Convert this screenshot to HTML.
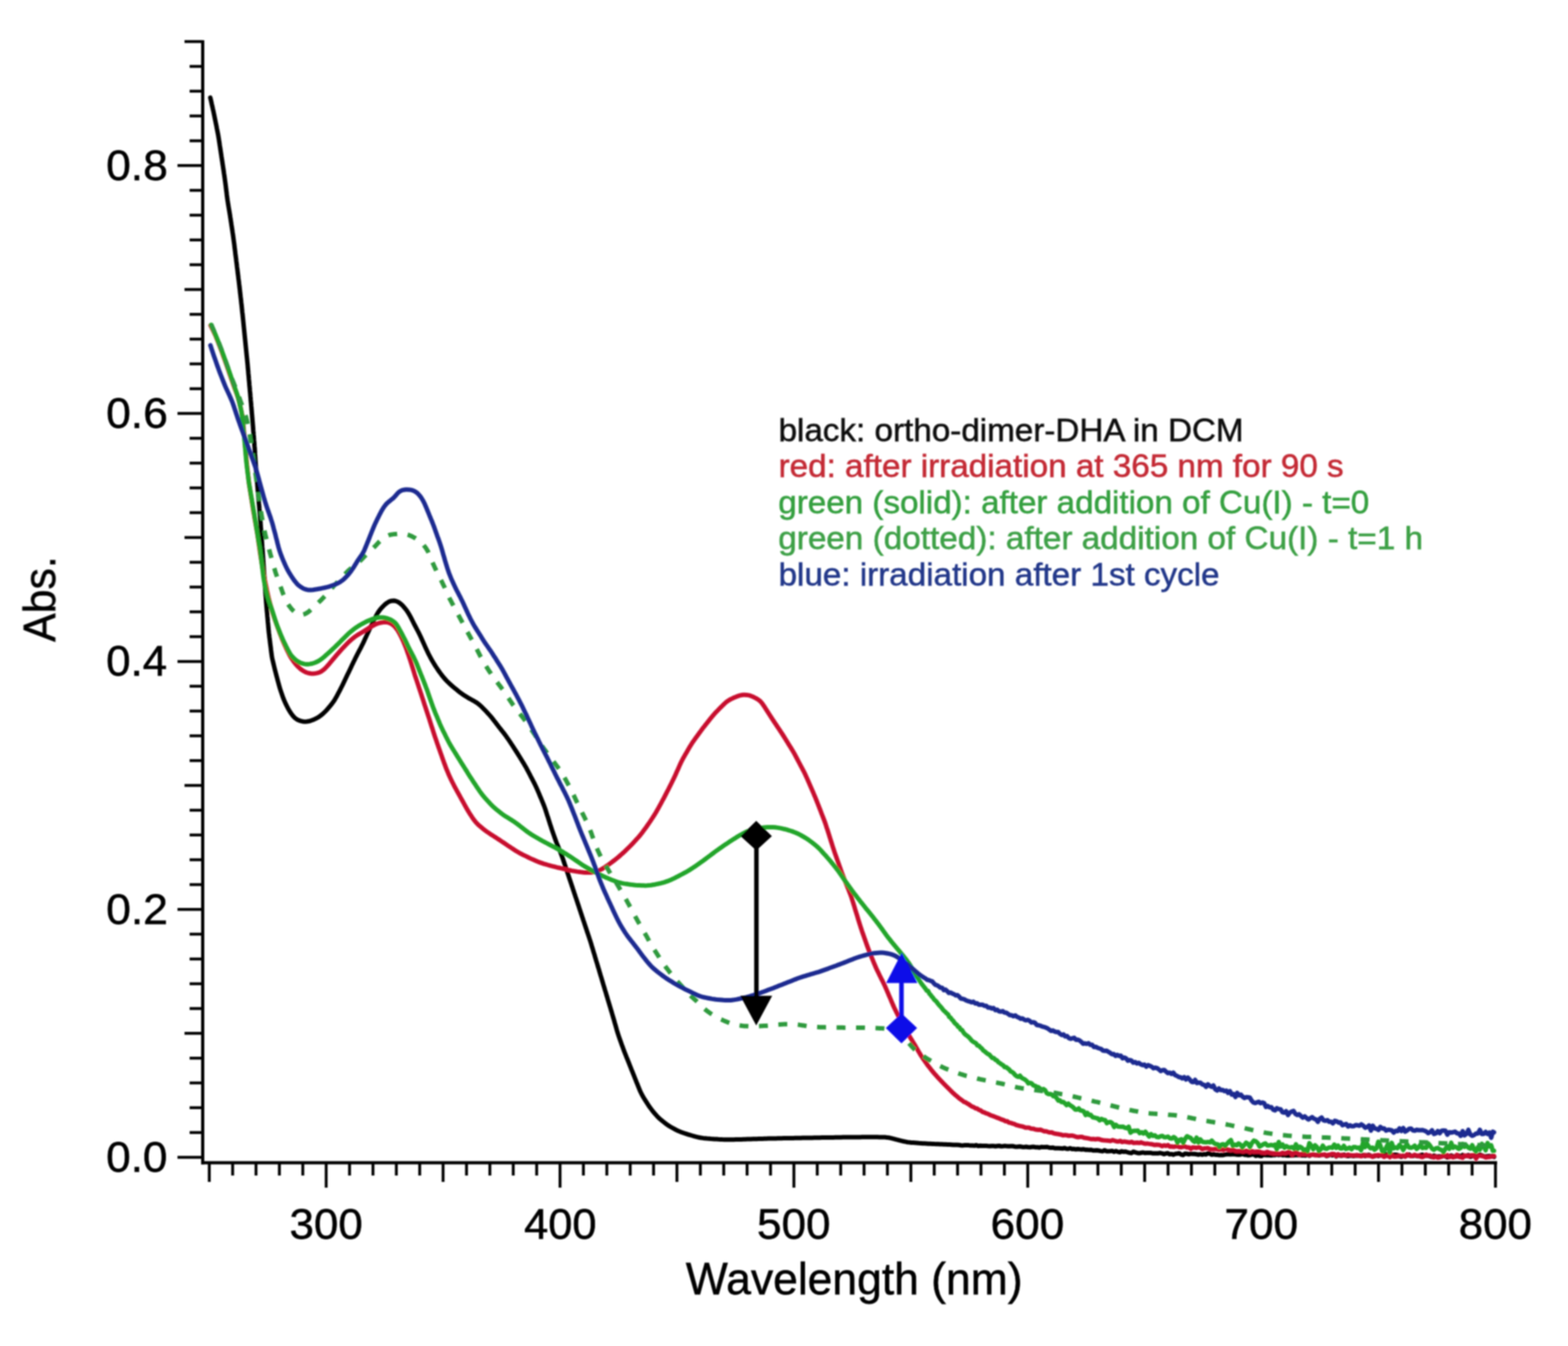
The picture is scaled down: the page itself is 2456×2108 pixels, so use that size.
<!DOCTYPE html><html><head><meta charset="utf-8"><title>UV-Vis spectra</title><style>html,body{margin:0;padding:0;background:#fff;}svg{display:block;}text{font-family:"Liberation Sans",Arial,sans-serif;}</style></head><body>
<svg width="2456" height="2108" viewBox="0 0 2456 2108">
<rect width="2456" height="2108" fill="#ffffff"/>
<defs><filter id="soft" x="0" y="0" width="100%" height="100%" filterUnits="userSpaceOnUse"><feGaussianBlur stdDeviation="1.0"/></filter></defs>
<g filter="url(#soft)">
<line x1="317.5" y1="63" x2="317.5" y2="1823.5" stroke="#000" stroke-width="5"/>
<line x1="315" y1="1821" x2="2345" y2="1821" stroke="#000" stroke-width="5"/>
<line x1="278" y1="1812.5" x2="317" y2="1812.5" stroke="#000" stroke-width="4.5"/>
<line x1="297" y1="1773.7" x2="317" y2="1773.7" stroke="#000" stroke-width="4.5"/>
<line x1="297" y1="1734.8" x2="317" y2="1734.8" stroke="#000" stroke-width="4.5"/>
<line x1="297" y1="1696.0" x2="317" y2="1696.0" stroke="#000" stroke-width="4.5"/>
<line x1="297" y1="1657.2" x2="317" y2="1657.2" stroke="#000" stroke-width="4.5"/>
<line x1="289" y1="1618.3" x2="317" y2="1618.3" stroke="#000" stroke-width="4.5"/>
<line x1="297" y1="1579.5" x2="317" y2="1579.5" stroke="#000" stroke-width="4.5"/>
<line x1="297" y1="1540.7" x2="317" y2="1540.7" stroke="#000" stroke-width="4.5"/>
<line x1="297" y1="1501.9" x2="317" y2="1501.9" stroke="#000" stroke-width="4.5"/>
<line x1="297" y1="1463.0" x2="317" y2="1463.0" stroke="#000" stroke-width="4.5"/>
<line x1="278" y1="1424.2" x2="317" y2="1424.2" stroke="#000" stroke-width="4.5"/>
<line x1="297" y1="1385.4" x2="317" y2="1385.4" stroke="#000" stroke-width="4.5"/>
<line x1="297" y1="1346.5" x2="317" y2="1346.5" stroke="#000" stroke-width="4.5"/>
<line x1="297" y1="1307.7" x2="317" y2="1307.7" stroke="#000" stroke-width="4.5"/>
<line x1="297" y1="1268.9" x2="317" y2="1268.9" stroke="#000" stroke-width="4.5"/>
<line x1="289" y1="1230.1" x2="317" y2="1230.1" stroke="#000" stroke-width="4.5"/>
<line x1="297" y1="1191.2" x2="317" y2="1191.2" stroke="#000" stroke-width="4.5"/>
<line x1="297" y1="1152.4" x2="317" y2="1152.4" stroke="#000" stroke-width="4.5"/>
<line x1="297" y1="1113.6" x2="317" y2="1113.6" stroke="#000" stroke-width="4.5"/>
<line x1="297" y1="1074.7" x2="317" y2="1074.7" stroke="#000" stroke-width="4.5"/>
<line x1="278" y1="1035.9" x2="317" y2="1035.9" stroke="#000" stroke-width="4.5"/>
<line x1="297" y1="997.1" x2="317" y2="997.1" stroke="#000" stroke-width="4.5"/>
<line x1="297" y1="958.2" x2="317" y2="958.2" stroke="#000" stroke-width="4.5"/>
<line x1="297" y1="919.4" x2="317" y2="919.4" stroke="#000" stroke-width="4.5"/>
<line x1="297" y1="880.6" x2="317" y2="880.6" stroke="#000" stroke-width="4.5"/>
<line x1="289" y1="841.8" x2="317" y2="841.8" stroke="#000" stroke-width="4.5"/>
<line x1="297" y1="802.9" x2="317" y2="802.9" stroke="#000" stroke-width="4.5"/>
<line x1="297" y1="764.1" x2="317" y2="764.1" stroke="#000" stroke-width="4.5"/>
<line x1="297" y1="725.3" x2="317" y2="725.3" stroke="#000" stroke-width="4.5"/>
<line x1="297" y1="686.4" x2="317" y2="686.4" stroke="#000" stroke-width="4.5"/>
<line x1="278" y1="647.6" x2="317" y2="647.6" stroke="#000" stroke-width="4.5"/>
<line x1="297" y1="608.8" x2="317" y2="608.8" stroke="#000" stroke-width="4.5"/>
<line x1="297" y1="569.9" x2="317" y2="569.9" stroke="#000" stroke-width="4.5"/>
<line x1="297" y1="531.1" x2="317" y2="531.1" stroke="#000" stroke-width="4.5"/>
<line x1="297" y1="492.3" x2="317" y2="492.3" stroke="#000" stroke-width="4.5"/>
<line x1="289" y1="453.4" x2="317" y2="453.4" stroke="#000" stroke-width="4.5"/>
<line x1="297" y1="414.6" x2="317" y2="414.6" stroke="#000" stroke-width="4.5"/>
<line x1="297" y1="375.8" x2="317" y2="375.8" stroke="#000" stroke-width="4.5"/>
<line x1="297" y1="337.0" x2="317" y2="337.0" stroke="#000" stroke-width="4.5"/>
<line x1="297" y1="298.1" x2="317" y2="298.1" stroke="#000" stroke-width="4.5"/>
<line x1="278" y1="259.3" x2="317" y2="259.3" stroke="#000" stroke-width="4.5"/>
<line x1="297" y1="220.5" x2="317" y2="220.5" stroke="#000" stroke-width="4.5"/>
<line x1="297" y1="181.6" x2="317" y2="181.6" stroke="#000" stroke-width="4.5"/>
<line x1="297" y1="142.8" x2="317" y2="142.8" stroke="#000" stroke-width="4.5"/>
<line x1="297" y1="104.0" x2="317" y2="104.0" stroke="#000" stroke-width="4.5"/>
<line x1="289" y1="65.1" x2="317" y2="65.1" stroke="#000" stroke-width="4.5"/>
<line x1="327.8" y1="1821" x2="327.8" y2="1851" stroke="#000" stroke-width="4.5"/>
<line x1="364.4" y1="1821" x2="364.4" y2="1841" stroke="#000" stroke-width="4.5"/>
<line x1="401.0" y1="1821" x2="401.0" y2="1841" stroke="#000" stroke-width="4.5"/>
<line x1="437.6" y1="1821" x2="437.6" y2="1841" stroke="#000" stroke-width="4.5"/>
<line x1="474.3" y1="1821" x2="474.3" y2="1841" stroke="#000" stroke-width="4.5"/>
<line x1="510.9" y1="1821" x2="510.9" y2="1860" stroke="#000" stroke-width="4.5"/>
<line x1="547.5" y1="1821" x2="547.5" y2="1841" stroke="#000" stroke-width="4.5"/>
<line x1="584.2" y1="1821" x2="584.2" y2="1841" stroke="#000" stroke-width="4.5"/>
<line x1="620.8" y1="1821" x2="620.8" y2="1841" stroke="#000" stroke-width="4.5"/>
<line x1="657.4" y1="1821" x2="657.4" y2="1841" stroke="#000" stroke-width="4.5"/>
<line x1="694.0" y1="1821" x2="694.0" y2="1851" stroke="#000" stroke-width="4.5"/>
<line x1="730.7" y1="1821" x2="730.7" y2="1841" stroke="#000" stroke-width="4.5"/>
<line x1="767.3" y1="1821" x2="767.3" y2="1841" stroke="#000" stroke-width="4.5"/>
<line x1="803.9" y1="1821" x2="803.9" y2="1841" stroke="#000" stroke-width="4.5"/>
<line x1="840.6" y1="1821" x2="840.6" y2="1841" stroke="#000" stroke-width="4.5"/>
<line x1="877.2" y1="1821" x2="877.2" y2="1860" stroke="#000" stroke-width="4.5"/>
<line x1="913.8" y1="1821" x2="913.8" y2="1841" stroke="#000" stroke-width="4.5"/>
<line x1="950.5" y1="1821" x2="950.5" y2="1841" stroke="#000" stroke-width="4.5"/>
<line x1="987.1" y1="1821" x2="987.1" y2="1841" stroke="#000" stroke-width="4.5"/>
<line x1="1023.7" y1="1821" x2="1023.7" y2="1841" stroke="#000" stroke-width="4.5"/>
<line x1="1060.3" y1="1821" x2="1060.3" y2="1851" stroke="#000" stroke-width="4.5"/>
<line x1="1097.0" y1="1821" x2="1097.0" y2="1841" stroke="#000" stroke-width="4.5"/>
<line x1="1133.6" y1="1821" x2="1133.6" y2="1841" stroke="#000" stroke-width="4.5"/>
<line x1="1170.2" y1="1821" x2="1170.2" y2="1841" stroke="#000" stroke-width="4.5"/>
<line x1="1206.9" y1="1821" x2="1206.9" y2="1841" stroke="#000" stroke-width="4.5"/>
<line x1="1243.5" y1="1821" x2="1243.5" y2="1860" stroke="#000" stroke-width="4.5"/>
<line x1="1280.1" y1="1821" x2="1280.1" y2="1841" stroke="#000" stroke-width="4.5"/>
<line x1="1316.8" y1="1821" x2="1316.8" y2="1841" stroke="#000" stroke-width="4.5"/>
<line x1="1353.4" y1="1821" x2="1353.4" y2="1841" stroke="#000" stroke-width="4.5"/>
<line x1="1390.0" y1="1821" x2="1390.0" y2="1841" stroke="#000" stroke-width="4.5"/>
<line x1="1426.7" y1="1821" x2="1426.7" y2="1851" stroke="#000" stroke-width="4.5"/>
<line x1="1463.3" y1="1821" x2="1463.3" y2="1841" stroke="#000" stroke-width="4.5"/>
<line x1="1499.9" y1="1821" x2="1499.9" y2="1841" stroke="#000" stroke-width="4.5"/>
<line x1="1536.5" y1="1821" x2="1536.5" y2="1841" stroke="#000" stroke-width="4.5"/>
<line x1="1573.2" y1="1821" x2="1573.2" y2="1841" stroke="#000" stroke-width="4.5"/>
<line x1="1609.8" y1="1821" x2="1609.8" y2="1860" stroke="#000" stroke-width="4.5"/>
<line x1="1646.4" y1="1821" x2="1646.4" y2="1841" stroke="#000" stroke-width="4.5"/>
<line x1="1683.1" y1="1821" x2="1683.1" y2="1841" stroke="#000" stroke-width="4.5"/>
<line x1="1719.7" y1="1821" x2="1719.7" y2="1841" stroke="#000" stroke-width="4.5"/>
<line x1="1756.3" y1="1821" x2="1756.3" y2="1841" stroke="#000" stroke-width="4.5"/>
<line x1="1792.9" y1="1821" x2="1792.9" y2="1851" stroke="#000" stroke-width="4.5"/>
<line x1="1829.6" y1="1821" x2="1829.6" y2="1841" stroke="#000" stroke-width="4.5"/>
<line x1="1866.2" y1="1821" x2="1866.2" y2="1841" stroke="#000" stroke-width="4.5"/>
<line x1="1902.8" y1="1821" x2="1902.8" y2="1841" stroke="#000" stroke-width="4.5"/>
<line x1="1939.5" y1="1821" x2="1939.5" y2="1841" stroke="#000" stroke-width="4.5"/>
<line x1="1976.1" y1="1821" x2="1976.1" y2="1860" stroke="#000" stroke-width="4.5"/>
<line x1="2012.7" y1="1821" x2="2012.7" y2="1841" stroke="#000" stroke-width="4.5"/>
<line x1="2049.4" y1="1821" x2="2049.4" y2="1841" stroke="#000" stroke-width="4.5"/>
<line x1="2086.0" y1="1821" x2="2086.0" y2="1841" stroke="#000" stroke-width="4.5"/>
<line x1="2122.6" y1="1821" x2="2122.6" y2="1841" stroke="#000" stroke-width="4.5"/>
<line x1="2159.2" y1="1821" x2="2159.2" y2="1851" stroke="#000" stroke-width="4.5"/>
<line x1="2195.9" y1="1821" x2="2195.9" y2="1841" stroke="#000" stroke-width="4.5"/>
<line x1="2232.5" y1="1821" x2="2232.5" y2="1841" stroke="#000" stroke-width="4.5"/>
<line x1="2269.1" y1="1821" x2="2269.1" y2="1841" stroke="#000" stroke-width="4.5"/>
<line x1="2305.8" y1="1821" x2="2305.8" y2="1841" stroke="#000" stroke-width="4.5"/>
<line x1="2342.4" y1="1821" x2="2342.4" y2="1860" stroke="#000" stroke-width="4.5"/>
<text x="166.18" y="1835.00" font-size="66" textLength="96.14" lengthAdjust="spacingAndGlyphs" fill="#000" stroke="#000" stroke-width="0.8">0.0</text>
<text x="166.16" y="1446.70" font-size="66" textLength="96.98" lengthAdjust="spacingAndGlyphs" fill="#000" stroke="#000" stroke-width="0.8">0.2</text>
<text x="166.20" y="1058.40" font-size="66" textLength="95.59" lengthAdjust="spacingAndGlyphs" fill="#000" stroke="#000" stroke-width="0.8">0.4</text>
<text x="166.17" y="670.10" font-size="66" textLength="96.70" lengthAdjust="spacingAndGlyphs" fill="#000" stroke="#000" stroke-width="0.8">0.6</text>
<text x="166.17" y="281.80" font-size="66" textLength="96.70" lengthAdjust="spacingAndGlyphs" fill="#000" stroke="#000" stroke-width="0.8">0.8</text>
<text x="453.55" y="1940.00" font-size="66" textLength="114.57" lengthAdjust="spacingAndGlyphs" fill="#000" stroke="#000" stroke-width="0.8">300</text>
<text x="820.90" y="1940.00" font-size="66" textLength="113.49" lengthAdjust="spacingAndGlyphs" fill="#000" stroke="#000" stroke-width="0.8">400</text>
<text x="1185.88" y="1940.00" font-size="66" textLength="114.84" lengthAdjust="spacingAndGlyphs" fill="#000" stroke="#000" stroke-width="0.8">500</text>
<text x="1551.64" y="1940.00" font-size="66" textLength="115.39" lengthAdjust="spacingAndGlyphs" fill="#000" stroke="#000" stroke-width="0.8">600</text>
<text x="1917.67" y="1940.00" font-size="66" textLength="115.67" lengthAdjust="spacingAndGlyphs" fill="#000" stroke="#000" stroke-width="0.8">700</text>
<text x="2284.78" y="1940.00" font-size="66" textLength="114.84" lengthAdjust="spacingAndGlyphs" fill="#000" stroke="#000" stroke-width="0.8">800</text>
<text x="1074.35" y="2027.00" font-size="69.5" textLength="527.28" lengthAdjust="spacingAndGlyphs" fill="#000" stroke="#000" stroke-width="0.8">Wavelength (nm)</text>
<g transform="translate(86.3,1005) rotate(-90)"><text x="-0.24" y="0.00" font-size="71" textLength="134.03" lengthAdjust="spacingAndGlyphs" fill="#000" stroke="#000" stroke-width="0.8">Abs.</text></g>
<path d="M329.4,152.9 L329.8,154.7 L330.4,157.1 L331.0,159.8 L331.6,162.7 L332.3,165.6 L333.0,168.6 L333.6,171.5 L334.3,174.4 L334.9,177.4 L335.5,180.3 L336.1,183.2 L336.7,186.2 L337.3,189.1 L337.9,192.1 L338.5,195.0 L339.1,197.9 L339.6,200.9 L340.2,203.8 L340.8,206.8 L341.4,209.7 L341.9,212.7 L342.4,215.6 L342.9,218.6 L343.3,221.6 L343.8,224.5 L344.2,227.5 L344.7,230.5 L345.1,233.4 L345.6,236.4 L346.0,239.4 L346.5,242.3 L346.9,245.3 L347.4,248.3 L347.8,251.2 L348.3,254.2 L348.7,257.2 L349.2,260.1 L349.6,263.1 L350.1,266.1 L350.5,269.0 L350.9,272.0 L351.4,275.0 L351.8,277.9 L352.2,280.9 L352.6,283.9 L353.0,286.8 L353.4,289.8 L353.8,292.8 L354.1,295.8 L354.5,298.8 L354.9,301.7 L355.2,304.7 L355.6,307.7 L356.0,310.7 L356.4,313.6 L356.9,316.6 L357.3,319.6 L357.8,322.5 L358.3,325.5 L358.8,328.4 L359.3,331.4 L359.8,334.4 L360.3,337.3 L360.7,340.3 L361.2,343.2 L361.6,346.2 L362.1,349.2 L362.5,352.1 L363.0,355.1 L363.4,358.1 L363.9,361.0 L364.3,364.0 L364.8,367.0 L365.2,370.0 L365.6,372.9 L366.0,375.9 L366.4,378.9 L366.8,381.8 L367.2,384.8 L367.5,387.8 L367.9,390.8 L368.3,393.8 L368.6,396.7 L369.0,399.7 L369.4,402.7 L369.8,405.7 L370.1,408.6 L370.5,411.6 L370.9,414.6 L371.2,417.6 L371.6,420.6 L372.0,423.5 L372.3,426.5 L372.7,429.5 L373.1,432.5 L373.4,435.4 L373.8,438.4 L374.2,441.4 L374.5,444.4 L374.9,447.4 L375.2,450.3 L375.6,453.3 L375.9,456.3 L376.2,459.3 L376.6,462.3 L376.9,465.2 L377.3,468.2 L377.6,471.2 L377.9,474.2 L378.3,477.2 L378.6,480.2 L378.9,483.1 L379.2,486.1 L379.5,489.1 L379.9,492.1 L380.2,495.1 L380.5,498.1 L380.8,501.0 L381.1,504.0 L381.4,507.0 L381.7,510.0 L382.0,513.0 L382.3,516.0 L382.6,518.9 L382.9,521.9 L383.2,524.9 L383.5,527.9 L383.8,530.9 L384.1,533.9 L384.4,536.9 L384.7,539.8 L385.0,542.8 L385.3,545.8 L385.6,548.8 L385.9,551.8 L386.2,554.8 L386.5,557.8 L386.8,560.7 L387.1,563.7 L387.4,566.7 L387.7,569.7 L388.0,572.7 L388.2,575.7 L388.5,578.7 L388.8,581.7 L389.0,584.6 L389.3,587.6 L389.6,590.6 L389.8,593.6 L390.1,596.6 L390.4,599.6 L390.6,602.6 L390.9,605.6 L391.2,608.6 L391.4,611.5 L391.7,614.5 L392.0,617.5 L392.2,620.5 L392.5,623.5 L392.7,626.5 L393.0,629.5 L393.3,632.5 L393.5,635.5 L393.8,638.4 L394.0,641.4 L394.3,644.4 L394.5,647.4 L394.8,650.4 L395.0,653.4 L395.3,656.4 L395.5,659.4 L395.8,662.4 L396.0,665.4 L396.3,668.3 L396.5,671.3 L396.7,674.3 L397.0,677.3 L397.2,680.3 L397.5,683.3 L397.7,686.3 L397.9,689.3 L398.2,692.3 L398.4,695.3 L398.6,698.3 L398.9,701.2 L399.1,704.2 L399.3,707.2 L399.4,710.2 L399.6,713.2 L399.8,716.2 L400.0,719.2 L400.2,722.2 L400.4,725.2 L400.6,728.2 L400.8,731.2 L401.0,734.2 L401.2,737.2 L401.5,740.2 L401.7,743.2 L402.0,746.1 L402.2,749.1 L402.5,752.1 L402.7,755.1 L403.0,758.1 L403.2,761.1 L403.5,764.1 L403.7,767.1 L404.0,770.1 L404.3,773.0 L404.5,776.0 L404.8,779.0 L405.0,782.0 L405.3,785.0 L405.5,788.0 L405.8,791.0 L406.1,794.0 L406.3,797.0 L406.6,800.0 L406.8,802.9 L407.1,805.9 L407.3,808.9 L407.5,811.9 L407.7,814.9 L408.0,817.9 L408.2,820.9 L408.4,823.9 L408.6,826.9 L408.9,829.9 L409.1,832.9 L409.3,835.9 L409.5,838.8 L409.8,841.8 L410.0,844.8 L410.2,847.8 L410.4,850.8 L410.6,853.8 L410.8,856.8 L411.1,859.8 L411.3,862.8 L411.5,865.8 L411.7,868.8 L411.9,871.8 L412.1,874.8 L412.3,877.7 L412.5,880.7 L412.7,883.7 L412.9,886.7 L413.1,889.7 L413.3,892.7 L413.5,895.7 L413.7,898.7 L413.9,901.7 L414.1,904.7 L414.4,907.7 L414.6,910.7 L414.8,913.7 L415.0,916.7 L415.2,919.7 L415.4,922.6 L415.6,925.6 L415.8,928.6 L416.0,931.6 L416.3,934.6 L416.5,937.6 L416.7,940.6 L416.9,943.6 L417.2,946.6 L417.4,949.6 L417.7,952.6 L417.9,955.6 L418.2,958.5 L418.5,961.5 L418.7,964.5 L419.0,967.5 L419.3,970.5 L419.5,973.5 L419.8,976.5 L420.1,979.5 L420.3,982.4 L420.6,985.4 L420.9,988.4 L421.2,991.4 L421.6,994.4 L421.9,997.4 L422.3,1000.3 L422.7,1003.3 L423.0,1006.3 L423.4,1009.3 L423.8,1012.3 L424.2,1015.2 L424.5,1018.2 L424.9,1021.2 L425.3,1024.2 L425.7,1027.1 L426.2,1030.1 L426.8,1033.0 L427.5,1035.9 L428.2,1038.9 L428.9,1041.8 L429.6,1044.7 L430.3,1047.6 L431.0,1050.5 L431.8,1053.4 L432.5,1056.3 L433.3,1059.2 L434.1,1062.1 L434.8,1065.0 L435.6,1067.9 L436.4,1070.8 L437.2,1073.7 L438.0,1076.6 L438.9,1079.5 L439.8,1082.3 L440.8,1085.1 L441.8,1088.0 L442.7,1090.8 L443.8,1093.6 L444.9,1096.4 L446.1,1099.2 L447.3,1101.9 L448.7,1104.6 L450.0,1107.2 L451.4,1109.9 L452.9,1112.5 L454.4,1115.0 L456.1,1117.5 L457.9,1119.9 L459.8,1122.2 L461.8,1124.3 L464.1,1126.0 L466.6,1127.5 L469.3,1128.6 L472.1,1129.4 L474.9,1130.0 L477.8,1130.2 L480.7,1130.0 L483.6,1129.5 L486.5,1128.8 L489.3,1127.8 L492.0,1126.7 L494.7,1125.4 L497.3,1124.0 L499.9,1122.4 L502.3,1120.7 L504.6,1118.8 L506.8,1116.8 L509.0,1114.7 L511.1,1112.6 L513.1,1110.4 L515.0,1108.1 L517.0,1105.8 L518.8,1103.5 L520.7,1101.1 L522.4,1098.7 L524.1,1096.2 L525.6,1093.6 L527.1,1091.0 L528.5,1088.4 L529.9,1085.7 L531.3,1083.1 L532.7,1080.4 L534.0,1077.7 L535.4,1075.1 L536.7,1072.4 L538.0,1069.7 L539.3,1067.0 L540.6,1064.3 L541.9,1061.6 L543.2,1058.8 L544.5,1056.1 L545.8,1053.4 L547.1,1050.7 L548.4,1048.0 L549.7,1045.3 L550.9,1042.6 L552.2,1039.9 L553.5,1037.2 L554.9,1034.5 L556.2,1031.8 L557.5,1029.1 L558.9,1026.4 L560.2,1023.8 L561.6,1021.1 L563.0,1018.4 L564.4,1015.8 L565.8,1013.1 L567.1,1010.4 L568.5,1007.8 L569.8,1005.1 L571.0,1002.3 L572.3,999.6 L573.5,996.9 L574.8,994.1 L576.0,991.4 L577.3,988.7 L578.5,986.0 L579.8,983.3 L581.1,980.6 L582.5,977.9 L583.8,975.2 L585.1,972.5 L586.4,969.8 L587.8,967.1 L589.2,964.5 L590.6,961.8 L592.1,959.3 L593.8,956.8 L595.6,954.4 L597.5,952.2 L599.6,950.0 L601.7,947.9 L603.9,945.9 L606.3,944.1 L608.7,942.6 L611.4,941.5 L614.1,940.9 L616.9,940.8 L619.7,941.3 L622.4,942.2 L624.9,943.6 L627.3,945.3 L629.5,947.3 L631.6,949.4 L633.5,951.7 L635.4,954.0 L637.2,956.4 L638.8,958.9 L640.4,961.4 L641.9,964.0 L643.3,966.7 L644.7,969.3 L646.0,972.0 L647.4,974.7 L648.7,977.4 L650.1,980.0 L651.5,982.7 L652.9,985.3 L654.3,988.0 L655.7,990.7 L657.0,993.3 L658.3,996.0 L659.6,998.8 L660.8,1001.5 L662.0,1004.2 L663.3,1007.0 L664.5,1009.7 L665.7,1012.4 L667.0,1015.2 L668.3,1017.9 L669.5,1020.6 L670.8,1023.3 L672.2,1026.0 L673.6,1028.6 L675.0,1031.3 L676.5,1033.9 L678.0,1036.5 L679.5,1039.0 L681.1,1041.6 L682.7,1044.1 L684.4,1046.6 L686.0,1049.1 L687.8,1051.6 L689.5,1054.0 L691.3,1056.4 L693.1,1058.8 L695.0,1061.1 L697.0,1063.4 L699.0,1065.6 L701.1,1067.7 L703.3,1069.8 L705.5,1071.8 L707.7,1073.8 L710.0,1075.8 L712.2,1077.7 L714.6,1079.6 L716.9,1081.5 L719.3,1083.4 L721.6,1085.2 L724.1,1087.0 L726.5,1088.6 L729.1,1090.3 L731.6,1091.8 L734.2,1093.4 L736.8,1094.8 L739.4,1096.3 L742.1,1097.7 L744.6,1099.2 L747.1,1100.8 L749.5,1102.6 L751.8,1104.5 L754.0,1106.5 L756.1,1108.6 L758.2,1110.8 L760.3,1112.9 L762.4,1115.1 L764.4,1117.3 L766.4,1119.5 L768.4,1121.8 L770.3,1124.1 L772.2,1126.4 L774.0,1128.8 L775.9,1131.2 L777.7,1133.6 L779.5,1135.9 L781.3,1138.3 L783.2,1140.7 L785.0,1143.0 L786.9,1145.4 L788.8,1147.7 L790.6,1150.1 L792.4,1152.5 L794.1,1154.9 L795.8,1157.4 L797.5,1159.9 L799.2,1162.4 L800.8,1164.9 L802.5,1167.4 L804.1,1169.9 L805.7,1172.4 L807.4,1175.0 L809.0,1177.5 L810.6,1180.0 L812.2,1182.6 L813.8,1185.1 L815.3,1187.7 L816.9,1190.2 L818.5,1192.8 L820.1,1195.3 L821.6,1197.9 L823.1,1200.5 L824.6,1203.1 L826.0,1205.8 L827.4,1208.4 L828.8,1211.1 L830.2,1213.7 L831.5,1216.4 L832.9,1219.0 L834.3,1221.7 L835.7,1224.4 L837.1,1227.0 L838.4,1229.7 L839.7,1232.4 L840.9,1235.2 L842.1,1237.9 L843.3,1240.7 L844.5,1243.4 L845.6,1246.2 L846.8,1249.0 L848.0,1251.7 L849.1,1254.5 L850.3,1257.3 L851.4,1260.1 L852.5,1262.8 L853.5,1265.7 L854.5,1268.5 L855.4,1271.4 L856.3,1274.2 L857.2,1277.1 L858.2,1279.9 L859.1,1282.8 L860.0,1285.6 L860.9,1288.5 L861.8,1291.4 L862.8,1294.2 L863.7,1297.1 L864.6,1299.9 L865.6,1302.7 L866.6,1305.6 L867.6,1308.4 L868.6,1311.2 L869.6,1314.0 L870.7,1316.9 L871.7,1319.7 L872.8,1322.5 L874.0,1325.2 L875.1,1328.0 L876.2,1330.8 L877.4,1333.6 L878.5,1336.4 L879.5,1339.2 L880.6,1342.0 L881.6,1344.8 L882.5,1347.6 L883.5,1350.5 L884.4,1353.3 L885.4,1356.2 L886.3,1359.0 L887.3,1361.9 L888.2,1364.7 L889.2,1367.6 L890.1,1370.4 L891.1,1373.3 L892.0,1376.1 L893.0,1379.0 L893.9,1381.8 L894.9,1384.6 L895.8,1387.5 L896.8,1390.3 L897.7,1393.2 L898.7,1396.0 L899.6,1398.9 L900.6,1401.7 L901.5,1404.6 L902.5,1407.4 L903.4,1410.3 L904.4,1413.1 L905.3,1416.0 L906.3,1418.8 L907.2,1421.6 L908.1,1424.5 L909.1,1427.3 L910.0,1430.2 L911.0,1433.0 L911.9,1435.9 L912.9,1438.7 L913.8,1441.6 L914.8,1444.4 L915.7,1447.3 L916.7,1450.1 L917.6,1453.0 L918.6,1455.8 L919.5,1458.7 L920.5,1461.5 L921.4,1464.3 L922.4,1467.2 L923.3,1470.0 L924.3,1472.9 L925.2,1475.7 L926.1,1478.6 L926.9,1481.5 L927.8,1484.4 L928.7,1487.2 L929.5,1490.1 L930.4,1493.0 L931.3,1495.8 L932.1,1498.7 L933.0,1501.6 L933.8,1504.5 L934.7,1507.3 L935.6,1510.2 L936.4,1513.1 L937.3,1516.0 L938.2,1518.8 L939.0,1521.7 L939.9,1524.6 L940.7,1527.5 L941.6,1530.3 L942.5,1533.2 L943.3,1536.1 L944.2,1539.0 L945.0,1541.8 L945.9,1544.7 L946.8,1547.6 L947.6,1550.5 L948.5,1553.3 L949.4,1556.2 L950.2,1559.1 L951.1,1561.9 L951.9,1564.8 L952.8,1567.7 L953.7,1570.6 L954.5,1573.4 L955.4,1576.3 L956.3,1579.2 L957.1,1582.1 L958.0,1584.9 L958.8,1587.8 L959.7,1590.7 L960.5,1593.6 L961.4,1596.4 L962.2,1599.3 L963.0,1602.2 L963.9,1605.1 L964.7,1608.0 L965.5,1610.9 L966.3,1613.8 L967.2,1616.6 L968.1,1619.5 L969.0,1622.3 L970.0,1625.2 L971.0,1628.0 L972.0,1630.8 L973.0,1633.7 L974.0,1636.5 L975.1,1639.3 L976.1,1642.1 L977.1,1644.9 L978.2,1647.7 L979.3,1650.5 L980.4,1653.3 L981.5,1656.1 L982.7,1658.9 L983.8,1661.7 L984.9,1664.4 L986.0,1667.2 L987.1,1670.0 L988.2,1672.8 L989.3,1675.6 L990.5,1678.4 L991.6,1681.2 L992.7,1683.9 L993.8,1686.7 L994.9,1689.5 L996.0,1692.3 L997.1,1695.1 L998.3,1697.9 L999.4,1700.7 L1000.5,1703.4 L1001.6,1706.2 L1002.8,1709.0 L1004.1,1711.7 L1005.4,1714.3 L1006.9,1716.9 L1008.4,1719.5 L1010.0,1722.1 L1011.6,1724.6 L1013.2,1727.2 L1014.8,1729.7 L1016.4,1732.2 L1018.2,1734.6 L1020.0,1737.0 L1021.8,1739.4 L1023.7,1741.7 L1025.6,1744.0 L1027.6,1746.3 L1029.6,1748.5 L1031.7,1750.6 L1033.9,1752.6 L1036.2,1754.5 L1038.5,1756.4 L1040.9,1758.3 L1043.3,1760.1 L1045.7,1761.8 L1048.2,1763.5 L1050.7,1765.0 L1053.4,1766.5 L1056.0,1767.9 L1058.6,1769.3 L1061.3,1770.7 L1064.1,1771.9 L1066.8,1773.0 L1069.6,1774.0 L1072.5,1775.0 L1075.3,1775.9 L1078.2,1776.8 L1081.1,1777.7 L1083.9,1778.5 L1086.8,1779.3 L1089.7,1780.1 L1092.6,1780.8 L1095.6,1781.5 L1098.5,1782.0 L1101.5,1782.4 L1104.4,1782.7 L1107.4,1783.0 L1110.4,1783.2 L1113.4,1783.5 L1116.4,1783.7 L1119.4,1783.9 L1122.4,1784.1 L1125.4,1784.3 L1128.4,1784.4 L1131.4,1784.6 L1134.4,1784.7 L1137.4,1784.8 L1140.4,1784.8 L1143.4,1784.8 L1146.4,1784.8 L1149.4,1784.7 L1152.4,1784.6 L1155.4,1784.5 L1158.4,1784.5 L1161.4,1784.4 L1164.4,1784.3 L1167.4,1784.2 L1170.4,1784.1 L1173.4,1784.0 L1176.4,1783.9 L1179.4,1783.8 L1182.4,1783.7 L1185.3,1783.7 L1188.3,1783.6 L1191.3,1783.5 L1194.3,1783.4 L1197.3,1783.3 L1200.3,1783.2 L1203.3,1783.1 L1206.3,1783.1 L1209.3,1783.0 L1212.3,1782.9 L1215.3,1782.9 L1218.3,1782.8 L1221.3,1782.8 L1224.3,1782.7 L1227.3,1782.6 L1230.3,1782.6 L1233.3,1782.5 L1236.3,1782.5 L1239.3,1782.4 L1242.3,1782.4 L1245.3,1782.3 L1248.3,1782.3 L1251.3,1782.2 L1254.3,1782.2 L1257.3,1782.1 L1260.3,1782.1 L1263.3,1782.0 L1266.3,1782.0 L1269.3,1781.9 L1272.3,1781.9 L1275.3,1781.8 L1278.3,1781.8 L1281.3,1781.7 L1284.3,1781.7 L1287.3,1781.6 L1290.3,1781.6 L1293.3,1781.5 L1296.3,1781.5 L1299.3,1781.4 L1302.3,1781.4 L1305.3,1781.4 L1308.3,1781.3 L1311.3,1781.3 L1314.3,1781.2 L1317.3,1781.2 L1320.3,1781.1 L1323.3,1781.1 L1326.3,1781.1 L1329.3,1781.0 L1332.3,1781.0 L1335.3,1781.0 L1338.3,1780.9 L1341.3,1780.9 L1344.3,1780.9 L1347.3,1780.9 L1350.3,1780.8 L1353.3,1780.8 L1356.3,1780.8 L1359.3,1780.8 L1362.3,1780.7 L1365.3,1780.7 L1368.3,1780.8 L1371.3,1780.8 L1374.3,1780.8 L1377.3,1780.9 L1380.3,1780.9 L1383.3,1781.0 L1386.3,1781.1 L1389.3,1781.4 L1392.2,1781.8 L1395.2,1782.4 L1398.1,1783.1 L1401.0,1783.8 L1403.9,1784.6 L1406.8,1785.3 L1409.7,1786.1 L1412.6,1786.8 L1415.5,1787.5 L1418.5,1788.1 L1421.4,1788.7 L1424.4,1789.1 L1427.3,1789.4 L1430.3,1789.6 L1433.3,1789.8 L1436.3,1790.0 L1439.3,1790.3 L1442.3,1790.5 L1445.3,1790.7 L1448.3,1790.8 L1451.3,1791.0 L1454.3,1791.2 L1457.3,1791.3 L1460.3,1791.4 L1463.3,1791.6 L1466.3,1791.7 L1469.3,1791.8 L1472.3,1792.0 L1475.3,1792.1 L1478.3,1792.2 L1481.2,1792.3 L1484.2,1792.5 L1487.2,1792.6 L1490.2,1792.7 L1493.2,1792.9 L1496.2,1793.0 L1499.2,1793.1 L1502.2,1793.3 L1505.2,1793.8 L1508.2,1793.9 L1511.2,1793.5 L1514.2,1793.6 L1517.2,1793.6 L1520.2,1794.1 L1523.2,1794.0 L1526.2,1794.3 L1529.2,1793.5 L1532.2,1794.7 L1535.2,1794.3 L1538.2,1794.6 L1541.2,1794.4 L1544.2,1794.4 L1547.2,1794.8 L1550.2,1795.0 L1553.2,1794.7 L1556.2,1794.8 L1559.2,1795.2 L1562.2,1794.7 L1565.2,1794.5 L1568.2,1795.3 L1571.2,1795.0 L1574.2,1794.6 L1577.2,1795.1 L1580.2,1795.3 L1583.2,1795.1 L1586.2,1795.0 L1589.2,1795.7 L1592.2,1796.1 L1595.2,1795.7 L1598.2,1795.6 L1601.2,1796.2 L1604.2,1796.4 L1607.2,1796.0 L1610.2,1796.5 L1613.2,1796.7 L1616.2,1796.3 L1619.2,1796.1 L1622.2,1796.7 L1625.2,1796.7 L1628.2,1797.2 L1631.2,1796.2 L1634.2,1796.6 L1637.2,1796.6 L1640.2,1796.3 L1643.2,1797.3 L1646.2,1797.6 L1649.2,1797.2 L1652.2,1798.3 L1655.2,1798.3 L1658.2,1798.3 L1661.2,1798.4 L1664.2,1798.8 L1667.2,1797.9 L1670.2,1799.0 L1673.1,1799.2 L1676.1,1798.2 L1679.1,1799.4 L1682.1,1799.3 L1685.1,1800.0 L1688.1,1799.5 L1691.1,1799.9 L1694.1,1800.3 L1697.1,1799.8 L1700.1,1800.7 L1703.1,1800.6 L1706.1,1801.0 L1709.1,1800.7 L1712.1,1801.7 L1715.1,1801.7 L1718.1,1801.4 L1721.1,1802.0 L1724.1,1802.6 L1727.1,1803.0 L1730.1,1801.4 L1733.1,1802.9 L1736.0,1802.9 L1739.0,1802.8 L1742.0,1802.4 L1745.0,1803.9 L1748.0,1802.6 L1751.0,1803.9 L1754.0,1804.5 L1757.0,1803.0 L1760.0,1803.9 L1763.0,1803.5 L1766.0,1804.5 L1769.0,1805.4 L1772.0,1805.9 L1775.0,1803.7 L1778.0,1804.6 L1781.0,1805.5 L1784.0,1806.1 L1787.0,1805.5 L1790.0,1804.9 L1793.0,1805.7 L1796.0,1805.6 L1799.0,1805.6 L1802.0,1805.4 L1805.0,1806.2 L1808.0,1806.3 L1811.0,1806.2 L1814.0,1806.2 L1817.0,1805.6 L1820.0,1806.3 L1823.0,1807.5 L1826.0,1806.7 L1829.0,1805.9 L1832.0,1807.8 L1835.0,1807.4 L1838.0,1808.4 L1841.0,1807.1 L1844.0,1806.8 L1847.0,1806.2 L1850.0,1808.1 L1853.0,1809.0 L1856.0,1806.8 L1859.0,1806.9 L1862.0,1807.8 L1865.0,1806.9 L1868.0,1807.3 L1871.0,1807.3 L1874.0,1807.7 L1877.0,1808.4 L1880.0,1807.7 L1883.0,1808.4 L1886.0,1807.5 L1889.0,1808.1 L1892.0,1806.3 L1895.0,1806.9 L1898.0,1808.5 L1901.0,1807.6 L1904.0,1808.5 L1907.0,1808.5 L1910.0,1809.1 L1913.0,1808.7 L1916.0,1808.9 L1919.0,1808.1 L1922.0,1807.7 L1925.0,1807.7 L1928.0,1807.9 L1931.0,1807.5 L1934.0,1807.9 L1937.0,1808.3 L1940.0,1808.6 L1943.0,1808.2 L1946.0,1807.0 L1949.0,1808.4 L1952.0,1808.7 L1955.0,1809.4 L1958.0,1809.0 L1961.0,1808.1 L1964.0,1808.1 L1967.0,1810.3 L1970.0,1809.3 L1973.0,1810.2 L1976.0,1810.5 L1979.0,1808.1 L1982.0,1809.1 L1985.0,1809.2 L1988.0,1809.3 L1991.0,1809.4 L1994.0,1809.1 L1997.0,1809.1 L2000.0,1807.7 L2003.0,1808.9 L2006.0,1808.4 L2009.0,1809.2 L2012.0,1808.7 L2015.0,1809.6 L2018.0,1809.8 L2021.0,1809.4 L2024.0,1809.4 L2027.0,1809.2 L2030.0,1808.8 L2033.0,1809.0 L2036.0,1808.7 L2039.0,1809.5 L2042.0,1809.2 L2045.0,1809.7 L2048.0,1808.1 L2051.0,1810.0 L2054.0,1808.6 L2057.0,1808.6 L2060.0,1809.1 L2063.0,1808.8 L2066.0,1809.6 L2069.0,1808.8 L2072.0,1808.4 L2075.0,1808.6 L2078.0,1810.6 L2081.0,1809.4 L2084.0,1808.3 L2087.0,1809.4 L2090.0,1808.0 L2093.0,1811.1 L2096.0,1808.1 L2099.0,1809.9 L2102.0,1810.0 L2105.0,1808.2 L2108.0,1809.8 L2111.0,1810.5 L2114.0,1810.0 L2117.0,1809.8 L2120.0,1810.5 L2123.0,1809.8 L2126.0,1810.0 L2129.0,1809.5 L2132.0,1810.3 L2135.0,1808.8 L2138.0,1810.5 L2141.0,1809.2 L2144.0,1808.6 L2147.0,1810.1 L2150.0,1811.4 L2153.0,1810.7 L2156.0,1809.3 L2159.0,1810.5 L2162.0,1809.4 L2165.0,1809.7 L2168.0,1809.9 L2171.0,1807.5 L2174.0,1810.1 L2177.0,1808.8 L2180.0,1809.2 L2183.0,1808.4 L2186.0,1808.4 L2189.0,1809.0 L2192.0,1810.8 L2195.0,1811.7 L2198.0,1810.0 L2201.0,1811.1 L2204.0,1809.7 L2207.0,1808.0 L2210.0,1810.2 L2213.0,1810.5 L2216.0,1809.6 L2219.0,1810.4 L2222.0,1810.7 L2225.0,1809.2 L2228.0,1808.5 L2231.0,1809.9 L2234.0,1809.9 L2237.0,1809.7 L2240.0,1811.2 L2243.0,1812.0 L2246.0,1809.7 L2249.0,1810.9 L2252.0,1811.2 L2255.0,1811.0 L2258.0,1811.4 L2261.0,1809.8 L2264.0,1811.1 L2267.0,1812.5 L2270.0,1811.1 L2273.0,1809.6 L2276.0,1811.0 L2279.0,1811.7 L2282.0,1810.7 L2285.0,1809.7 L2288.0,1812.1 L2291.0,1808.9 L2294.0,1810.9 L2297.0,1810.3 L2300.0,1809.0 L2303.0,1811.8 L2306.0,1810.8 L2309.0,1809.0 L2312.0,1811.1 L2315.0,1809.9 L2318.0,1808.2 L2321.0,1809.6 L2324.0,1810.7 L2327.0,1811.2 L2330.0,1810.7 L2332.9,1810.5 L2335.7,1811.0 L2338.2,1810.2 L2340.1,1811.9" fill="none" stroke="#000" stroke-width="7" stroke-linejoin="round" stroke-linecap="round"/>
<path d="M329.9,509.7 L330.7,511.4 L331.8,513.6 L333.0,516.1 L334.4,518.8 L335.6,521.5 L336.9,524.2 L338.1,526.9 L339.2,529.7 L340.3,532.5 L341.4,535.3 L342.5,538.1 L343.6,540.9 L344.7,543.7 L345.7,546.5 L346.8,549.3 L347.8,552.1 L348.8,554.9 L349.8,557.8 L350.9,560.6 L351.9,563.4 L352.9,566.2 L353.9,569.1 L354.9,571.9 L355.9,574.7 L356.9,577.6 L357.9,580.4 L358.8,583.2 L359.8,586.1 L360.8,588.9 L361.8,591.7 L362.8,594.6 L363.8,597.4 L364.8,600.2 L365.8,603.1 L366.8,605.9 L367.8,608.7 L368.9,611.5 L369.9,614.3 L370.9,617.2 L371.9,620.0 L372.9,622.8 L373.7,625.7 L374.5,628.6 L375.2,631.5 L375.9,634.4 L376.6,637.3 L377.2,640.3 L377.9,643.2 L378.5,646.1 L379.1,649.1 L379.6,652.0 L379.9,655.0 L380.3,658.0 L380.6,661.0 L380.9,664.0 L381.2,666.9 L381.5,669.9 L381.8,672.9 L382.1,675.9 L382.4,678.9 L382.7,681.9 L383.0,684.9 L383.3,687.8 L383.5,690.8 L383.8,693.8 L384.1,696.8 L384.3,699.8 L384.6,702.8 L384.9,705.8 L385.1,708.8 L385.4,711.8 L385.6,714.8 L385.9,717.7 L386.1,720.7 L386.4,723.7 L386.7,726.7 L387.0,729.7 L387.3,732.7 L387.7,735.7 L388.0,738.6 L388.3,741.6 L388.6,744.6 L389.0,747.6 L389.3,750.6 L389.7,753.6 L390.0,756.5 L390.4,759.5 L390.9,762.5 L391.3,765.4 L391.8,768.4 L392.3,771.4 L392.7,774.3 L393.2,777.3 L393.7,780.3 L394.2,783.2 L394.6,786.2 L395.1,789.2 L395.6,792.1 L396.1,795.1 L396.5,798.0 L397.0,801.0 L397.6,804.0 L398.1,806.9 L398.6,809.9 L399.1,812.8 L399.6,815.8 L400.1,818.7 L400.7,821.7 L401.2,824.6 L401.7,827.6 L402.2,830.6 L402.7,833.5 L403.2,836.5 L403.6,839.5 L404.1,842.4 L404.5,845.4 L404.9,848.4 L405.3,851.3 L405.8,854.3 L406.2,857.3 L406.6,860.2 L407.0,863.2 L407.5,866.2 L407.9,869.2 L408.4,872.1 L408.9,875.1 L409.4,878.0 L409.9,881.0 L410.4,884.0 L410.9,886.9 L411.4,889.9 L411.9,892.8 L412.4,895.8 L412.9,898.7 L413.5,901.7 L414.0,904.6 L414.6,907.6 L415.2,910.5 L415.8,913.5 L416.4,916.4 L417.0,919.3 L417.6,922.3 L418.2,925.2 L418.9,928.2 L419.5,931.1 L420.2,934.0 L420.8,936.9 L421.6,939.8 L422.3,942.7 L423.1,945.6 L423.9,948.5 L424.7,951.4 L425.5,954.3 L426.3,957.2 L427.2,960.1 L428.1,962.9 L429.0,965.8 L430.0,968.6 L431.0,971.5 L432.0,974.3 L433.0,977.1 L434.0,979.9 L435.0,982.8 L436.1,985.6 L437.1,988.4 L438.1,991.2 L439.2,994.0 L440.3,996.8 L441.4,999.6 L442.5,1002.4 L443.7,1005.1 L444.9,1007.9 L446.1,1010.6 L447.4,1013.4 L448.6,1016.1 L449.9,1018.8 L451.3,1021.5 L452.6,1024.2 L454.0,1026.8 L455.5,1029.4 L457.1,1031.9 L458.8,1034.4 L460.5,1036.8 L462.4,1039.2 L464.3,1041.5 L466.3,1043.7 L468.5,1045.7 L470.7,1047.6 L473.1,1049.4 L475.6,1051.0 L478.2,1052.4 L481.0,1053.5 L483.8,1054.3 L486.6,1054.8 L489.6,1055.0 L492.5,1054.8 L495.4,1054.4 L498.3,1053.7 L501.0,1052.7 L503.6,1051.3 L505.9,1049.6 L508.2,1047.7 L510.3,1045.6 L512.4,1043.4 L514.4,1041.2 L516.3,1038.9 L518.2,1036.6 L520.2,1034.3 L522.1,1032.0 L524.0,1029.7 L526.0,1027.4 L527.9,1025.1 L529.9,1022.9 L531.9,1020.6 L533.9,1018.4 L535.9,1016.2 L537.9,1014.0 L540.0,1011.8 L542.1,1009.6 L544.2,1007.5 L546.3,1005.4 L548.5,1003.4 L550.8,1001.4 L553.1,999.5 L555.4,997.6 L557.9,995.9 L560.4,994.3 L562.9,992.7 L565.5,991.2 L568.1,989.7 L570.6,988.1 L573.2,986.5 L575.7,984.9 L578.2,983.3 L580.8,981.7 L583.4,980.3 L586.1,978.9 L588.8,977.6 L591.5,976.5 L594.4,975.7 L597.3,975.0 L600.2,974.6 L603.1,974.4 L606.0,974.6 L608.8,975.2 L611.5,976.3 L614.0,977.7 L616.3,979.5 L618.4,981.5 L620.3,983.8 L622.1,986.2 L623.7,988.7 L625.2,991.2 L626.6,993.9 L628.0,996.5 L629.3,999.2 L630.6,1002.0 L631.8,1004.7 L633.0,1007.5 L634.1,1010.2 L635.2,1013.0 L636.3,1015.8 L637.3,1018.6 L638.3,1021.5 L639.3,1024.3 L640.3,1027.1 L641.2,1030.0 L642.2,1032.8 L643.1,1035.7 L644.0,1038.5 L644.9,1041.4 L645.8,1044.3 L646.7,1047.1 L647.6,1050.0 L648.5,1052.9 L649.3,1055.7 L650.2,1058.6 L651.2,1061.5 L652.1,1064.3 L653.1,1067.2 L654.0,1070.0 L655.0,1072.9 L655.9,1075.7 L656.8,1078.5 L657.8,1081.4 L658.7,1084.2 L659.7,1087.1 L660.6,1090.0 L661.5,1092.8 L662.5,1095.7 L663.4,1098.5 L664.3,1101.4 L665.2,1104.2 L666.2,1107.1 L667.1,1109.9 L668.0,1112.8 L669.0,1115.6 L669.9,1118.5 L670.8,1121.3 L671.8,1124.2 L672.7,1127.0 L673.6,1129.9 L674.5,1132.8 L675.4,1135.6 L676.3,1138.5 L677.3,1141.3 L678.2,1144.2 L679.1,1147.1 L680.0,1149.9 L680.9,1152.8 L681.9,1155.6 L682.9,1158.4 L683.9,1161.3 L684.8,1164.1 L685.8,1166.9 L686.8,1169.8 L687.8,1172.6 L688.8,1175.4 L689.8,1178.3 L690.8,1181.1 L691.8,1183.9 L692.8,1186.8 L693.8,1189.6 L694.8,1192.4 L695.8,1195.2 L696.9,1198.1 L697.9,1200.9 L699.0,1203.7 L700.1,1206.4 L701.3,1209.2 L702.4,1212.0 L703.6,1214.7 L704.9,1217.5 L706.1,1220.2 L707.5,1222.9 L708.8,1225.6 L710.2,1228.2 L711.5,1230.9 L712.9,1233.6 L714.4,1236.2 L715.8,1238.8 L717.3,1241.5 L718.7,1244.1 L720.2,1246.7 L721.6,1249.3 L723.1,1252.0 L724.5,1254.6 L726.0,1257.2 L727.4,1259.8 L728.9,1262.5 L730.3,1265.1 L731.8,1267.7 L733.4,1270.3 L734.9,1272.8 L736.5,1275.3 L738.2,1277.9 L739.8,1280.4 L741.5,1282.8 L743.3,1285.2 L745.2,1287.6 L747.2,1289.7 L749.3,1291.8 L751.6,1293.8 L753.9,1295.7 L756.2,1297.7 L758.5,1299.5 L760.9,1301.3 L763.3,1303.0 L765.8,1304.7 L768.3,1306.4 L770.9,1308.0 L773.4,1309.6 L775.9,1311.2 L778.4,1312.9 L780.9,1314.5 L783.4,1316.2 L785.9,1317.9 L788.4,1319.5 L790.9,1321.2 L793.4,1322.9 L795.9,1324.6 L798.4,1326.2 L800.9,1327.9 L803.4,1329.5 L805.9,1331.2 L808.4,1332.8 L811.0,1334.3 L813.6,1335.8 L816.2,1337.2 L818.9,1338.6 L821.6,1339.9 L824.3,1341.2 L827.0,1342.5 L829.7,1343.8 L832.4,1345.1 L835.2,1346.3 L837.9,1347.5 L840.7,1348.7 L843.4,1349.9 L846.2,1350.9 L849.1,1351.9 L851.9,1352.8 L854.8,1353.6 L857.7,1354.5 L860.6,1355.3 L863.5,1356.1 L866.4,1356.8 L869.3,1357.5 L872.2,1358.3 L875.1,1359.0 L878.0,1359.7 L881.0,1360.4 L883.9,1361.1 L886.8,1361.7 L889.7,1362.4 L892.7,1363.0 L895.6,1363.6 L898.6,1364.1 L901.5,1364.6 L904.5,1365.1 L907.4,1365.5 L910.4,1365.9 L913.4,1366.3 L916.4,1366.5 L919.4,1366.6 L922.4,1366.6 L925.3,1366.5 L928.3,1366.1 L931.2,1365.5 L934.1,1364.8 L936.9,1363.8 L939.6,1362.6 L942.3,1361.3 L944.8,1359.8 L947.4,1358.2 L949.9,1356.5 L952.3,1354.8 L954.7,1353.0 L957.1,1351.2 L959.5,1349.4 L961.9,1347.6 L964.3,1345.8 L966.6,1343.9 L968.9,1342.0 L971.2,1340.0 L973.4,1338.0 L975.7,1336.0 L977.9,1334.0 L980.1,1331.9 L982.2,1329.8 L984.4,1327.7 L986.5,1325.6 L988.6,1323.5 L990.7,1321.3 L992.7,1319.1 L994.8,1316.9 L996.8,1314.7 L998.8,1312.5 L1000.8,1310.3 L1002.7,1308.0 L1004.6,1305.6 L1006.4,1303.3 L1008.2,1300.8 L1010.0,1298.4 L1011.8,1296.0 L1013.5,1293.5 L1015.2,1291.1 L1016.9,1288.6 L1018.6,1286.1 L1020.2,1283.6 L1021.9,1281.1 L1023.5,1278.6 L1025.1,1276.1 L1026.7,1273.5 L1028.2,1270.9 L1029.7,1268.3 L1031.2,1265.7 L1032.6,1263.1 L1034.1,1260.4 L1035.5,1257.8 L1036.9,1255.2 L1038.3,1252.5 L1039.8,1249.9 L1041.2,1247.2 L1042.5,1244.6 L1043.9,1241.9 L1045.3,1239.2 L1046.7,1236.6 L1048.0,1233.9 L1049.4,1231.2 L1050.7,1228.5 L1052.1,1225.8 L1053.4,1223.1 L1054.7,1220.4 L1056.0,1217.7 L1057.3,1215.0 L1058.5,1212.3 L1059.7,1209.5 L1061.0,1206.8 L1062.2,1204.1 L1063.4,1201.3 L1064.6,1198.6 L1065.9,1195.8 L1067.2,1193.1 L1068.5,1190.5 L1069.9,1187.8 L1071.4,1185.2 L1072.9,1182.6 L1074.4,1180.0 L1075.9,1177.4 L1077.4,1174.8 L1078.9,1172.2 L1080.4,1169.6 L1082.0,1167.1 L1083.6,1164.5 L1085.2,1162.0 L1087.0,1159.6 L1088.7,1157.1 L1090.5,1154.7 L1092.2,1152.3 L1094.0,1149.9 L1095.8,1147.4 L1097.6,1145.0 L1099.3,1142.6 L1101.1,1140.2 L1103.0,1137.8 L1104.8,1135.5 L1106.7,1133.1 L1108.6,1130.8 L1110.4,1128.4 L1112.3,1126.1 L1114.2,1123.8 L1116.1,1121.4 L1118.0,1119.2 L1120.0,1116.9 L1122.1,1114.7 L1124.2,1112.6 L1126.3,1110.4 L1128.4,1108.3 L1130.5,1106.2 L1132.6,1104.1 L1134.8,1102.0 L1137.0,1100.0 L1139.3,1098.2 L1141.8,1096.6 L1144.4,1095.1 L1147.1,1093.8 L1149.8,1092.5 L1152.5,1091.4 L1155.3,1090.3 L1158.1,1089.4 L1161.0,1088.7 L1163.9,1088.3 L1166.9,1088.2 L1169.8,1088.4 L1172.7,1088.9 L1175.6,1089.7 L1178.3,1090.7 L1181.0,1092.0 L1183.7,1093.4 L1186.3,1094.8 L1188.7,1096.5 L1190.9,1098.3 L1192.9,1100.5 L1194.7,1102.8 L1196.3,1105.3 L1198.0,1107.8 L1199.6,1110.3 L1201.2,1112.9 L1202.8,1115.4 L1204.4,1117.9 L1206.0,1120.4 L1207.7,1123.0 L1209.3,1125.5 L1211.0,1128.0 L1212.6,1130.5 L1214.3,1133.0 L1216.0,1135.5 L1217.6,1138.0 L1219.3,1140.5 L1221.0,1143.0 L1222.6,1145.5 L1224.3,1148.0 L1225.9,1150.5 L1227.5,1153.0 L1229.1,1155.6 L1230.7,1158.1 L1232.2,1160.7 L1233.8,1163.2 L1235.4,1165.8 L1237.0,1168.3 L1238.6,1170.9 L1240.1,1173.4 L1241.7,1176.0 L1243.2,1178.6 L1244.7,1181.2 L1246.1,1183.9 L1247.5,1186.5 L1248.9,1189.2 L1250.3,1191.8 L1251.7,1194.5 L1253.1,1197.1 L1254.5,1199.8 L1255.9,1202.4 L1257.3,1205.1 L1258.7,1207.7 L1260.1,1210.4 L1261.4,1213.1 L1262.6,1215.8 L1263.9,1218.6 L1265.1,1221.3 L1266.3,1224.1 L1267.5,1226.8 L1268.7,1229.6 L1269.9,1232.3 L1271.1,1235.1 L1272.3,1237.8 L1273.5,1240.6 L1274.6,1243.3 L1275.8,1246.1 L1277.0,1248.9 L1278.1,1251.6 L1279.2,1254.4 L1280.3,1257.2 L1281.4,1260.0 L1282.5,1262.8 L1283.6,1265.6 L1284.7,1268.4 L1285.8,1271.2 L1286.8,1274.0 L1287.9,1276.8 L1289.0,1279.6 L1290.1,1282.4 L1291.2,1285.2 L1292.2,1288.0 L1293.2,1290.9 L1294.1,1293.7 L1295.0,1296.6 L1296.0,1299.4 L1296.9,1302.3 L1297.8,1305.1 L1298.7,1308.0 L1299.6,1310.9 L1300.5,1313.7 L1301.4,1316.6 L1302.3,1319.4 L1303.2,1322.3 L1304.1,1325.2 L1305.0,1328.0 L1306.0,1330.9 L1306.9,1333.7 L1307.9,1336.6 L1308.9,1339.4 L1309.9,1342.2 L1310.9,1345.1 L1311.9,1347.9 L1312.9,1350.7 L1313.9,1353.5 L1314.9,1356.4 L1315.9,1359.2 L1316.9,1362.0 L1317.9,1364.9 L1318.9,1367.7 L1320.0,1370.5 L1321.1,1373.3 L1322.2,1376.1 L1323.3,1378.9 L1324.4,1381.6 L1325.5,1384.4 L1326.6,1387.2 L1327.8,1390.0 L1328.9,1392.8 L1330.0,1395.6 L1331.1,1398.4 L1332.2,1401.2 L1333.2,1404.0 L1334.1,1406.8 L1335.0,1409.7 L1335.9,1412.5 L1336.8,1415.4 L1337.7,1418.3 L1338.6,1421.2 L1339.4,1424.0 L1340.3,1426.9 L1341.2,1429.8 L1342.1,1432.6 L1343.0,1435.5 L1343.8,1438.4 L1344.7,1441.2 L1345.6,1444.1 L1346.5,1447.0 L1347.4,1449.8 L1348.3,1452.7 L1349.3,1455.5 L1350.2,1458.4 L1351.2,1461.2 L1352.2,1464.0 L1353.2,1466.9 L1354.2,1469.7 L1355.2,1472.5 L1356.2,1475.4 L1357.2,1478.2 L1358.2,1481.0 L1359.2,1483.8 L1360.3,1486.7 L1361.4,1489.5 L1362.5,1492.2 L1363.6,1495.0 L1364.7,1497.8 L1365.8,1500.6 L1367.0,1503.4 L1368.1,1506.2 L1369.2,1508.9 L1370.4,1511.7 L1371.6,1514.5 L1372.8,1517.2 L1374.1,1519.9 L1375.4,1522.6 L1376.7,1525.3 L1378.0,1528.0 L1379.4,1530.7 L1380.7,1533.4 L1382.1,1536.0 L1383.4,1538.7 L1384.7,1541.4 L1386.0,1544.1 L1387.2,1546.9 L1388.4,1549.6 L1389.6,1552.4 L1390.8,1555.2 L1391.9,1557.9 L1393.1,1560.7 L1394.3,1563.4 L1395.5,1566.2 L1396.6,1569.0 L1397.8,1571.7 L1399.0,1574.5 L1400.2,1577.2 L1401.5,1579.9 L1402.8,1582.6 L1404.1,1585.3 L1405.5,1588.0 L1406.8,1590.7 L1408.2,1593.4 L1409.5,1596.1 L1410.9,1598.7 L1412.3,1601.4 L1413.7,1604.0 L1415.2,1606.6 L1416.7,1609.2 L1418.2,1611.8 L1419.7,1614.4 L1421.2,1617.0 L1422.7,1619.6 L1424.2,1622.2 L1425.7,1624.8 L1427.3,1627.4 L1428.8,1629.9 L1430.4,1632.5 L1432.0,1635.1 L1433.5,1637.6 L1435.0,1640.2 L1436.5,1642.8 L1438.0,1645.4 L1439.5,1648.0 L1441.1,1650.6 L1442.6,1653.1 L1444.3,1655.7 L1445.9,1658.2 L1447.6,1660.6 L1449.3,1663.1 L1451.1,1665.5 L1452.8,1668.0 L1454.7,1670.4 L1456.5,1672.7 L1458.4,1675.1 L1460.3,1677.4 L1462.2,1679.7 L1464.1,1682.0 L1466.1,1684.2 L1468.1,1686.5 L1470.1,1688.7 L1472.2,1690.9 L1474.3,1693.1 L1476.3,1695.2 L1478.4,1697.4 L1480.5,1699.5 L1482.6,1701.6 L1484.8,1703.8 L1486.9,1705.9 L1489.0,1708.0 L1491.1,1710.1 L1493.3,1712.2 L1495.5,1714.2 L1497.8,1716.1 L1500.1,1718.0 L1502.5,1720.2 L1504.9,1721.9 L1507.4,1723.6 L1509.8,1725.6 L1512.3,1726.3 L1514.9,1728.1 L1517.4,1729.4 L1520.0,1731.3 L1522.7,1733.1 L1525.3,1734.1 L1528.0,1735.7 L1530.7,1736.2 L1533.4,1738.2 L1536.1,1739.1 L1538.8,1741.3 L1541.6,1742.2 L1544.3,1743.5 L1547.1,1744.3 L1549.8,1745.8 L1552.6,1747.0 L1555.3,1747.8 L1558.1,1748.9 L1560.9,1750.2 L1563.7,1751.1 L1566.4,1752.2 L1569.3,1753.4 L1572.1,1754.3 L1574.9,1756.0 L1577.7,1756.1 L1580.5,1758.1 L1583.3,1758.6 L1586.1,1759.7 L1588.9,1760.4 L1591.7,1761.8 L1594.6,1762.6 L1597.5,1763.5 L1600.4,1763.9 L1603.4,1764.8 L1606.3,1766.1 L1609.3,1766.1 L1612.2,1766.3 L1615.1,1767.6 L1618.1,1767.7 L1621.0,1768.6 L1623.9,1769.3 L1626.9,1769.4 L1629.8,1769.3 L1632.8,1770.6 L1635.7,1771.7 L1638.6,1771.8 L1641.6,1772.8 L1644.5,1773.6 L1647.5,1773.5 L1650.4,1774.9 L1653.4,1775.6 L1656.3,1775.9 L1659.3,1776.5 L1662.2,1777.0 L1665.2,1778.1 L1668.2,1777.6 L1671.1,1778.0 L1674.1,1778.8 L1677.0,1778.5 L1680.0,1778.6 L1683.0,1779.4 L1685.9,1780.5 L1688.9,1781.0 L1691.9,1780.4 L1694.8,1780.6 L1697.8,1781.8 L1700.8,1782.2 L1703.8,1782.6 L1706.8,1783.4 L1709.7,1784.0 L1712.7,1783.8 L1715.7,1784.4 L1718.7,1783.8 L1721.7,1784.1 L1724.7,1785.2 L1727.6,1785.8 L1730.6,1786.1 L1733.6,1786.3 L1736.6,1786.6 L1739.6,1786.9 L1742.6,1785.6 L1745.6,1786.5 L1748.6,1787.4 L1751.6,1787.7 L1754.6,1786.7 L1757.5,1788.5 L1760.5,1787.8 L1763.5,1788.2 L1766.5,1788.7 L1769.5,1789.3 L1772.5,1788.2 L1775.5,1790.0 L1778.5,1789.7 L1781.5,1789.5 L1784.4,1790.1 L1787.4,1789.1 L1790.4,1790.4 L1793.4,1791.2 L1796.4,1790.9 L1799.4,1791.4 L1802.4,1791.8 L1805.4,1792.3 L1808.3,1793.2 L1811.3,1792.8 L1814.3,1792.9 L1817.3,1793.7 L1820.3,1795.1 L1823.3,1793.7 L1826.3,1794.6 L1829.3,1793.4 L1832.3,1795.7 L1835.2,1795.5 L1838.2,1796.2 L1841.2,1795.5 L1844.2,1795.1 L1847.2,1796.6 L1850.2,1796.7 L1853.2,1795.8 L1856.2,1795.5 L1859.2,1797.1 L1862.2,1796.9 L1865.2,1799.1 L1868.2,1796.9 L1871.2,1797.2 L1874.2,1797.7 L1877.1,1796.7 L1880.1,1797.5 L1883.1,1799.6 L1886.1,1798.5 L1889.1,1798.3 L1892.1,1798.0 L1895.1,1799.6 L1898.1,1799.9 L1901.1,1799.8 L1904.1,1799.5 L1907.1,1800.2 L1910.1,1800.5 L1913.1,1799.9 L1916.1,1801.1 L1919.1,1799.1 L1922.1,1800.0 L1925.1,1801.0 L1928.1,1801.4 L1931.0,1800.7 L1934.0,1802.1 L1937.0,1802.9 L1940.0,1802.7 L1943.0,1802.7 L1946.0,1803.4 L1949.0,1803.2 L1952.0,1802.2 L1955.0,1803.2 L1958.0,1804.6 L1961.0,1802.8 L1964.0,1804.0 L1967.0,1803.8 L1970.0,1803.6 L1973.0,1803.7 L1976.0,1804.9 L1979.0,1805.2 L1981.9,1805.4 L1984.9,1804.0 L1987.9,1805.1 L1990.9,1805.8 L1993.9,1806.4 L1996.9,1806.3 L1999.9,1806.5 L2002.9,1806.9 L2005.9,1806.8 L2008.9,1805.4 L2011.9,1806.3 L2014.9,1805.7 L2017.9,1804.3 L2020.9,1805.1 L2023.9,1808.7 L2026.9,1805.8 L2029.9,1804.9 L2032.9,1806.5 L2035.9,1808.6 L2038.9,1807.3 L2041.9,1807.8 L2044.9,1807.3 L2047.9,1807.6 L2050.9,1809.0 L2053.9,1808.6 L2056.9,1807.9 L2059.9,1809.0 L2062.9,1809.3 L2065.9,1808.1 L2068.9,1808.7 L2071.9,1808.8 L2074.9,1807.9 L2077.9,1809.8 L2080.9,1808.5 L2083.9,1808.1 L2086.9,1807.1 L2089.9,1807.5 L2092.9,1810.4 L2095.9,1807.7 L2098.9,1809.4 L2101.9,1808.6 L2104.9,1809.6 L2107.9,1809.7 L2110.9,1808.3 L2113.9,1808.9 L2116.9,1809.3 L2119.9,1809.4 L2122.9,1809.3 L2125.9,1809.0 L2128.9,1810.1 L2131.9,1810.8 L2134.9,1810.1 L2137.9,1808.8 L2140.9,1810.0 L2143.9,1809.7 L2146.9,1810.2 L2149.9,1811.7 L2152.9,1809.5 L2155.9,1809.8 L2158.9,1808.9 L2161.9,1809.6 L2164.9,1809.3 L2167.9,1811.8 L2170.9,1810.4 L2173.9,1809.5 L2176.9,1812.3 L2179.9,1808.7 L2182.9,1811.2 L2185.9,1811.4 L2188.9,1811.0 L2191.9,1810.1 L2194.9,1810.3 L2197.9,1810.1 L2200.9,1811.4 L2203.9,1807.9 L2207.0,1809.9 L2210.0,1810.7 L2213.0,1809.9 L2216.0,1808.5 L2219.0,1810.3 L2222.0,1809.7 L2225.0,1811.5 L2228.0,1812.2 L2231.0,1810.7 L2234.0,1808.4 L2237.0,1810.4 L2240.0,1809.6 L2243.0,1811.5 L2246.0,1812.7 L2249.0,1811.0 L2252.0,1813.1 L2255.0,1812.5 L2258.0,1811.5 L2261.0,1809.7 L2264.0,1811.0 L2267.0,1809.1 L2270.0,1812.1 L2273.0,1811.0 L2276.0,1812.6 L2279.0,1811.3 L2282.0,1808.6 L2285.0,1811.8 L2288.0,1812.1 L2291.0,1813.1 L2294.0,1809.8 L2297.0,1809.9 L2300.0,1811.1 L2303.0,1809.7 L2306.0,1809.3 L2309.0,1809.7 L2312.0,1814.3 L2315.0,1810.3 L2318.0,1809.8 L2321.0,1810.5 L2324.0,1811.1 L2327.0,1812.7 L2330.0,1812.3 L2332.9,1812.1 L2335.7,1811.2 L2338.2,1811.3 L2340.1,1810.3" fill="none" stroke="#c8102e" stroke-width="7" stroke-linejoin="round" stroke-linecap="round"/>
<path d="M330.8,508.8 L331.5,510.5 L332.5,512.7 L333.7,515.3 L334.9,518.0 L336.1,520.7 L337.2,523.5 L338.4,526.3 L339.5,529.0 L340.6,531.8 L341.7,534.6 L342.9,537.4 L344.0,540.2 L345.1,543.0 L346.1,545.8 L347.2,548.6 L348.2,551.4 L349.2,554.2 L350.3,557.1 L351.3,559.9 L352.3,562.7 L353.3,565.5 L354.3,568.4 L355.3,571.2 L356.3,574.0 L357.3,576.8 L358.3,579.7 L359.3,582.5 L360.3,585.4 L361.3,588.2 L362.2,591.0 L363.2,593.9 L364.2,596.7 L365.2,599.5 L366.2,602.4 L367.2,605.2 L368.1,608.0 L369.1,610.9 L370.1,613.7 L371.1,616.5 L372.0,619.4 L372.9,622.3 L373.6,625.2 L374.4,628.1 L375.1,631.0 L375.7,633.9 L376.4,636.8 L377.1,639.8 L377.7,642.7 L378.3,645.6 L378.8,648.6 L379.2,651.5 L379.6,654.5 L379.9,657.5 L380.2,660.5 L380.5,663.5 L380.8,666.5 L381.0,669.5 L381.3,672.4 L381.6,675.4 L381.9,678.4 L382.2,681.4 L382.5,684.4 L382.7,687.4 L383.0,690.4 L383.3,693.4 L383.5,696.4 L383.8,699.3 L384.1,702.3 L384.3,705.3 L384.6,708.3 L384.8,711.3 L385.1,714.3 L385.3,717.3 L385.6,720.3 L385.9,723.3 L386.2,726.2 L386.6,729.2 L386.9,732.2 L387.3,735.2 L387.6,738.2 L388.0,741.1 L388.4,744.1 L388.8,747.1 L389.1,750.1 L389.5,753.1 L389.9,756.0 L390.4,759.0 L390.9,762.0 L391.4,764.9 L391.9,767.9 L392.4,770.8 L392.9,773.8 L393.4,776.7 L393.9,779.7 L394.4,782.7 L394.9,785.6 L395.4,788.6 L395.9,791.5 L396.4,794.5 L396.9,797.5 L397.4,800.4 L397.9,803.4 L398.4,806.3 L398.8,809.3 L399.3,812.3 L399.8,815.2 L400.3,818.2 L400.8,821.2 L401.2,824.1 L401.7,827.1 L402.2,830.0 L402.7,833.0 L403.2,836.0 L403.7,838.9 L404.1,841.9 L404.6,844.9 L405.1,847.8 L405.6,850.8 L406.1,853.7 L406.6,856.7 L407.1,859.7 L407.5,862.6 L407.9,865.6 L408.3,868.6 L408.7,871.6 L409.1,874.5 L409.4,877.5 L409.8,880.5 L410.2,883.5 L410.6,886.4 L410.9,889.4 L411.3,892.4 L411.7,895.4 L412.0,898.4 L412.4,901.3 L412.8,904.3 L413.2,907.3 L413.7,910.2 L414.3,913.2 L414.9,916.1 L415.5,919.1 L416.1,922.0 L416.8,924.9 L417.4,927.8 L418.1,930.8 L418.9,933.7 L419.7,936.5 L420.6,939.4 L421.6,942.2 L422.5,945.1 L423.5,947.9 L424.5,950.8 L425.5,953.6 L426.4,956.4 L427.4,959.3 L428.3,962.2 L429.2,965.0 L430.1,967.9 L431.0,970.7 L432.0,973.6 L432.9,976.4 L433.9,979.2 L435.0,982.0 L436.1,984.8 L437.2,987.6 L438.3,990.4 L439.4,993.2 L440.6,996.0 L441.8,998.7 L443.0,1001.5 L444.3,1004.2 L445.6,1006.9 L446.9,1009.6 L448.2,1012.3 L449.6,1014.9 L450.9,1017.6 L452.4,1020.3 L453.8,1022.9 L455.4,1025.4 L457.2,1027.7 L459.2,1029.9 L461.3,1031.9 L463.6,1033.8 L466.0,1035.5 L468.6,1037.0 L471.2,1038.3 L474.0,1039.2 L476.8,1039.9 L479.7,1040.3 L482.6,1040.3 L485.6,1039.9 L488.5,1039.3 L491.3,1038.5 L494.1,1037.5 L496.8,1036.3 L499.4,1034.9 L501.9,1033.3 L504.3,1031.5 L506.6,1029.6 L508.9,1027.7 L511.1,1025.7 L513.4,1023.7 L515.6,1021.7 L517.8,1019.6 L520.0,1017.6 L522.2,1015.5 L524.4,1013.5 L526.5,1011.4 L528.7,1009.3 L530.8,1007.2 L532.9,1005.1 L535.0,1002.9 L537.2,1000.8 L539.3,998.7 L541.4,996.6 L543.6,994.5 L545.7,992.4 L548.0,990.4 L550.3,988.5 L552.6,986.6 L555.0,984.8 L557.4,983.0 L559.9,981.4 L562.4,979.8 L565.0,978.3 L567.6,976.8 L570.3,975.4 L572.9,974.0 L575.6,972.7 L578.4,971.5 L581.2,970.4 L584.0,969.4 L586.8,968.5 L589.7,967.8 L592.6,967.3 L595.6,967.0 L598.6,967.0 L601.5,967.3 L604.4,967.9 L607.3,968.7 L610.0,969.7 L612.7,971.0 L615.2,972.5 L617.6,974.3 L619.6,976.3 L621.5,978.6 L623.1,981.1 L624.6,983.6 L626.0,986.3 L627.5,988.9 L628.9,991.5 L630.3,994.2 L631.7,996.8 L633.1,999.5 L634.5,1002.2 L635.8,1004.9 L637.1,1007.6 L638.3,1010.3 L639.6,1013.0 L641.0,1015.7 L642.3,1018.4 L643.7,1021.0 L645.1,1023.7 L646.5,1026.4 L647.9,1029.0 L649.2,1031.7 L650.5,1034.4 L651.7,1037.1 L652.9,1039.9 L654.0,1042.7 L655.1,1045.5 L656.2,1048.3 L657.3,1051.1 L658.4,1053.8 L659.5,1056.6 L660.7,1059.4 L661.8,1062.2 L662.9,1065.0 L664.0,1067.8 L665.1,1070.6 L666.2,1073.4 L667.2,1076.2 L668.3,1079.0 L669.3,1081.8 L670.3,1084.7 L671.2,1087.5 L672.2,1090.3 L673.2,1093.2 L674.2,1096.0 L675.2,1098.8 L676.2,1101.7 L677.2,1104.5 L678.2,1107.3 L679.3,1110.1 L680.4,1112.9 L681.5,1115.7 L682.6,1118.5 L683.8,1121.2 L685.0,1124.0 L686.1,1126.8 L687.3,1129.5 L688.4,1132.3 L689.6,1135.1 L690.8,1137.8 L692.1,1140.5 L693.4,1143.2 L694.7,1145.9 L696.1,1148.6 L697.4,1151.3 L698.7,1154.0 L700.1,1156.7 L701.4,1159.3 L702.8,1162.0 L704.2,1164.6 L705.7,1167.2 L707.3,1169.8 L708.8,1172.4 L710.4,1174.9 L712.0,1177.5 L713.6,1180.0 L715.2,1182.6 L716.7,1185.1 L718.3,1187.7 L719.9,1190.2 L721.5,1192.8 L723.1,1195.3 L724.7,1197.9 L726.3,1200.4 L727.9,1203.0 L729.5,1205.5 L731.1,1208.0 L732.6,1210.6 L734.2,1213.1 L735.8,1215.7 L737.5,1218.2 L739.1,1220.7 L740.7,1223.2 L742.4,1225.7 L744.1,1228.2 L745.7,1230.7 L747.4,1233.2 L749.1,1235.7 L750.7,1238.2 L752.5,1240.7 L754.2,1243.1 L756.1,1245.4 L758.0,1247.7 L759.9,1250.0 L761.9,1252.2 L764.0,1254.5 L766.0,1256.7 L768.0,1258.9 L770.1,1261.0 L772.2,1263.1 L774.5,1265.1 L776.8,1267.1 L779.1,1269.0 L781.4,1270.8 L783.8,1272.7 L786.1,1274.5 L788.6,1276.3 L791.0,1278.0 L793.6,1279.6 L796.1,1281.1 L798.7,1282.7 L801.2,1284.3 L803.8,1285.9 L806.3,1287.6 L808.7,1289.3 L811.1,1291.1 L813.5,1292.9 L815.8,1294.8 L818.2,1296.6 L820.6,1298.5 L822.9,1300.3 L825.3,1302.1 L827.8,1303.9 L830.2,1305.5 L832.8,1307.2 L835.3,1308.7 L837.9,1310.3 L840.5,1311.8 L843.1,1313.3 L845.7,1314.8 L848.3,1316.2 L850.9,1317.7 L853.6,1319.1 L856.3,1320.5 L858.9,1321.9 L861.6,1323.3 L864.2,1324.7 L866.9,1326.1 L869.5,1327.5 L872.1,1329.0 L874.8,1330.4 L877.4,1331.9 L880.0,1333.4 L882.6,1334.9 L885.1,1336.5 L887.7,1338.1 L890.2,1339.7 L892.7,1341.3 L895.2,1342.9 L897.7,1344.6 L900.2,1346.3 L902.7,1348.0 L905.1,1349.7 L907.6,1351.4 L910.1,1353.1 L912.6,1354.8 L915.1,1356.4 L917.7,1357.9 L920.3,1359.4 L922.9,1360.9 L925.5,1362.4 L928.1,1363.8 L930.8,1365.2 L933.4,1366.6 L936.1,1368.0 L938.8,1369.3 L941.5,1370.7 L944.2,1372.0 L946.9,1373.2 L949.6,1374.5 L952.4,1375.6 L955.2,1376.8 L958.0,1377.9 L960.8,1379.0 L963.5,1380.1 L966.4,1381.1 L969.2,1382.0 L972.1,1382.7 L975.0,1383.4 L978.0,1383.9 L980.9,1384.3 L983.9,1384.8 L986.9,1385.2 L989.8,1385.6 L992.8,1385.9 L995.8,1386.2 L998.8,1386.4 L1001.8,1386.5 L1004.8,1386.7 L1007.8,1386.8 L1010.8,1386.9 L1013.8,1386.8 L1016.7,1386.6 L1019.7,1386.2 L1022.6,1385.7 L1025.6,1385.2 L1028.5,1384.6 L1031.5,1384.0 L1034.4,1383.4 L1037.3,1382.6 L1040.2,1381.8 L1043.0,1380.9 L1045.9,1379.9 L1048.7,1378.8 L1051.4,1377.7 L1054.1,1376.4 L1056.8,1375.1 L1059.5,1373.7 L1062.2,1372.3 L1064.8,1370.9 L1067.5,1369.5 L1070.1,1368.1 L1072.8,1366.7 L1075.4,1365.3 L1078.0,1363.8 L1080.5,1362.2 L1083.1,1360.6 L1085.6,1358.9 L1088.1,1357.3 L1090.5,1355.6 L1093.0,1353.9 L1095.5,1352.1 L1097.9,1350.4 L1100.4,1348.7 L1102.8,1346.9 L1105.2,1345.1 L1107.6,1343.3 L1110.0,1341.5 L1112.4,1339.7 L1114.8,1337.9 L1117.2,1336.1 L1119.6,1334.3 L1122.0,1332.5 L1124.4,1330.8 L1126.9,1329.0 L1129.4,1327.3 L1131.8,1325.6 L1134.3,1323.9 L1136.8,1322.2 L1139.3,1320.6 L1141.8,1318.9 L1144.3,1317.2 L1146.8,1315.6 L1149.3,1314.0 L1151.9,1312.4 L1154.4,1310.8 L1157.0,1309.2 L1159.5,1307.7 L1162.2,1306.2 L1164.8,1304.8 L1167.5,1303.5 L1170.2,1302.3 L1173.0,1301.2 L1175.8,1300.2 L1178.7,1299.4 L1181.6,1298.5 L1184.5,1297.8 L1187.4,1297.3 L1190.4,1296.8 L1193.4,1296.4 L1196.3,1296.0 L1199.3,1295.8 L1202.3,1295.6 L1205.3,1295.4 L1208.3,1295.4 L1211.3,1295.5 L1214.3,1295.7 L1217.2,1296.1 L1220.2,1296.6 L1223.1,1297.1 L1226.0,1297.8 L1228.9,1298.5 L1231.8,1299.2 L1234.7,1300.1 L1237.6,1301.0 L1240.4,1301.9 L1243.2,1302.9 L1246.0,1304.0 L1248.8,1305.2 L1251.5,1306.5 L1254.1,1307.9 L1256.7,1309.4 L1259.3,1310.9 L1261.9,1312.4 L1264.4,1314.0 L1266.9,1315.7 L1269.3,1317.5 L1271.7,1319.3 L1274.1,1321.1 L1276.4,1323.0 L1278.7,1324.9 L1280.9,1326.9 L1283.1,1329.0 L1285.2,1331.1 L1287.2,1333.3 L1289.2,1335.6 L1291.2,1337.8 L1293.3,1340.0 L1295.2,1342.3 L1297.2,1344.5 L1299.1,1346.8 L1301.1,1349.1 L1303.0,1351.4 L1304.9,1353.7 L1306.8,1356.1 L1308.7,1358.4 L1310.5,1360.8 L1312.3,1363.2 L1314.0,1365.6 L1315.8,1368.1 L1317.5,1370.6 L1319.2,1373.0 L1320.9,1375.5 L1322.6,1377.9 L1324.3,1380.4 L1326.1,1382.8 L1327.8,1385.3 L1329.6,1387.7 L1331.3,1390.2 L1333.1,1392.6 L1334.9,1395.0 L1336.6,1397.4 L1338.4,1399.8 L1340.3,1402.2 L1342.1,1404.6 L1343.9,1407.0 L1345.8,1409.3 L1347.6,1411.7 L1349.5,1414.0 L1351.4,1416.4 L1353.2,1418.7 L1355.1,1421.1 L1357.0,1423.4 L1358.9,1425.7 L1360.8,1428.0 L1362.7,1430.4 L1364.6,1432.7 L1366.5,1435.1 L1368.3,1437.4 L1370.1,1439.8 L1372.0,1442.2 L1373.8,1444.6 L1375.6,1446.9 L1377.4,1449.3 L1379.2,1451.8 L1380.9,1454.2 L1382.7,1456.6 L1384.4,1459.1 L1386.2,1461.5 L1387.9,1464.0 L1389.7,1466.4 L1391.5,1468.8 L1393.4,1471.1 L1395.3,1473.5 L1397.1,1475.8 L1399.0,1478.1 L1401.0,1480.4 L1402.9,1482.7 L1404.8,1485.0 L1406.7,1487.3 L1408.7,1489.6 L1410.6,1491.9 L1412.5,1494.2 L1414.5,1496.5 L1416.3,1498.9 L1418.2,1501.2 L1420.0,1503.6 L1421.8,1506.0 L1423.6,1508.4 L1425.2,1510.9 L1426.8,1513.5 L1428.3,1516.1 L1429.7,1518.7 L1431.2,1521.3 L1432.6,1523.9 L1434.1,1526.5 L1435.7,1529.1 L1437.3,1531.6 L1439.0,1534.1 L1440.7,1536.6 L1442.4,1539.1 L1444.1,1541.5 L1446.0,1543.9 L1447.8,1546.2 L1449.7,1548.5 L1451.6,1551.6 L1453.6,1551.9 L1455.5,1555.8 L1457.4,1557.8 L1459.4,1560.6 L1461.3,1562.5 L1463.2,1565.5 L1465.1,1567.0 L1467.1,1569.0 L1469.0,1571.8 L1470.9,1574.1 L1472.8,1576.0 L1474.8,1578.3 L1476.8,1581.0 L1478.8,1583.3 L1480.8,1584.8 L1482.9,1587.1 L1484.9,1588.5 L1486.9,1592.7 L1489.0,1593.8 L1491.0,1596.9 L1493.0,1598.6 L1495.0,1601.8 L1497.0,1603.8 L1499.0,1605.3 L1500.9,1608.3 L1502.9,1609.1 L1504.9,1612.7 L1506.9,1613.2 L1508.9,1616.6 L1511.0,1619.3 L1513.0,1620.9 L1515.2,1622.5 L1517.4,1624.3 L1519.6,1626.6 L1521.9,1629.6 L1524.1,1631.4 L1526.4,1632.6 L1528.6,1633.8 L1530.9,1637.2 L1533.2,1637.6 L1535.5,1640.2 L1537.8,1642.0 L1540.1,1645.1 L1542.4,1646.6 L1544.7,1648.7 L1547.0,1650.4 L1549.4,1651.4 L1551.8,1654.2 L1554.2,1656.8 L1556.7,1657.3 L1559.1,1659.7 L1561.5,1660.8 L1563.9,1663.6 L1566.3,1665.1 L1568.8,1667.0 L1571.2,1668.3 L1573.6,1671.3 L1576.0,1671.3 L1578.3,1673.2 L1580.6,1674.8 L1582.9,1677.9 L1585.1,1678.7 L1587.5,1680.5 L1589.9,1683.5 L1592.5,1685.6 L1595.0,1686.5 L1597.6,1684.7 L1600.2,1688.0 L1602.8,1689.4 L1605.4,1690.7 L1608.1,1692.9 L1610.7,1696.8 L1613.4,1695.9 L1616.0,1696.8 L1618.7,1699.8 L1621.3,1700.6 L1623.9,1702.1 L1626.5,1702.6 L1629.1,1704.9 L1631.8,1706.9 L1634.4,1705.6 L1637.0,1707.4 L1639.6,1712.1 L1642.2,1713.4 L1644.7,1713.2 L1647.3,1714.1 L1649.9,1716.7 L1652.5,1717.0 L1655.0,1719.6 L1657.6,1723.7 L1660.2,1723.3 L1662.8,1726.1 L1665.4,1725.8 L1668.1,1728.0 L1670.7,1730.7 L1673.4,1728.4 L1676.1,1731.0 L1678.8,1732.6 L1681.5,1734.6 L1684.2,1737.7 L1686.9,1737.8 L1689.6,1736.0 L1692.3,1739.1 L1695.0,1739.5 L1697.7,1740.7 L1700.4,1746.3 L1703.1,1743.0 L1705.8,1746.3 L1708.5,1746.1 L1711.3,1749.7 L1714.0,1750.2 L1716.8,1751.0 L1719.6,1751.7 L1722.4,1754.6 L1725.2,1752.4 L1728.1,1753.7 L1730.9,1754.1 L1733.7,1759.0 L1736.6,1757.4 L1739.4,1757.2 L1742.2,1759.1 L1745.1,1765.0 L1747.9,1761.6 L1750.7,1764.2 L1753.5,1764.6 L1756.4,1764.8 L1759.2,1764.6 L1762.1,1766.2 L1764.9,1767.0 L1767.8,1764.6 L1770.7,1773.8 L1773.6,1771.7 L1776.5,1771.0 L1779.4,1771.1 L1782.3,1770.8 L1785.2,1774.7 L1788.2,1773.3 L1791.1,1775.2 L1794.0,1772.4 L1797.0,1776.3 L1799.9,1779.9 L1802.8,1776.2 L1805.8,1778.9 L1808.7,1778.0 L1811.7,1780.6 L1814.6,1781.1 L1817.6,1779.6 L1820.5,1778.9 L1823.5,1781.0 L1826.5,1781.0 L1829.4,1780.1 L1832.4,1782.7 L1835.4,1783.1 L1838.4,1780.8 L1841.3,1782.7 L1844.3,1789.4 L1847.3,1785.3 L1850.3,1784.2 L1853.3,1789.6 L1856.3,1783.6 L1859.2,1779.5 L1862.2,1781.0 L1865.2,1782.2 L1868.2,1786.3 L1871.2,1788.2 L1874.2,1781.6 L1877.2,1789.2 L1880.1,1784.4 L1883.1,1788.0 L1886.1,1788.8 L1889.1,1789.1 L1892.1,1788.4 L1895.1,1789.1 L1898.0,1786.4 L1901.0,1789.9 L1904.0,1791.8 L1907.0,1791.9 L1910.0,1796.1 L1913.0,1792.6 L1916.0,1792.0 L1919.0,1794.4 L1922.0,1791.2 L1925.0,1787.7 L1928.0,1785.5 L1931.0,1794.3 L1934.0,1792.7 L1937.0,1793.6 L1940.0,1790.8 L1943.0,1792.7 L1946.0,1796.8 L1949.0,1793.1 L1951.9,1789.6 L1954.9,1791.5 L1957.9,1796.3 L1960.9,1790.1 L1963.9,1786.4 L1966.9,1787.3 L1969.9,1790.0 L1972.9,1795.7 L1975.9,1794.0 L1978.9,1792.0 L1981.9,1790.7 L1984.9,1793.9 L1987.9,1793.9 L1990.9,1793.0 L1993.9,1794.0 L1996.9,1792.7 L1999.9,1799.8 L2002.9,1788.5 L2005.9,1795.5 L2008.9,1792.4 L2011.9,1797.4 L2014.9,1794.9 L2017.9,1796.7 L2020.9,1797.3 L2023.9,1796.5 L2026.9,1798.9 L2029.9,1792.2 L2032.9,1799.0 L2035.9,1795.8 L2038.9,1797.6 L2041.9,1801.2 L2044.9,1800.1 L2047.9,1802.7 L2050.9,1790.3 L2053.9,1794.2 L2056.9,1799.9 L2059.9,1793.7 L2062.9,1796.5 L2065.9,1802.3 L2068.9,1799.8 L2071.9,1794.2 L2074.9,1798.6 L2077.9,1799.2 L2080.9,1797.4 L2083.9,1796.9 L2086.9,1797.7 L2089.9,1792.6 L2092.9,1797.7 L2095.9,1794.3 L2098.9,1798.6 L2101.9,1798.7 L2104.9,1794.5 L2107.9,1799.4 L2110.9,1798.6 L2113.9,1797.3 L2116.9,1799.8 L2119.9,1796.5 L2122.9,1796.6 L2125.9,1797.7 L2128.9,1797.3 L2131.9,1801.3 L2134.9,1789.6 L2137.9,1796.5 L2140.9,1790.8 L2143.9,1795.7 L2146.9,1798.3 L2149.9,1797.4 L2152.9,1800.7 L2155.9,1798.5 L2158.9,1788.0 L2161.9,1793.5 L2164.9,1802.7 L2167.9,1802.7 L2170.9,1797.7 L2173.9,1791.9 L2176.9,1804.9 L2179.9,1789.9 L2182.9,1798.4 L2185.9,1797.1 L2188.9,1798.1 L2191.9,1793.1 L2194.9,1795.8 L2197.9,1801.1 L2200.9,1795.5 L2203.9,1792.2 L2206.9,1797.1 L2209.9,1797.5 L2212.9,1796.7 L2215.9,1794.3 L2218.9,1799.2 L2221.9,1796.7 L2225.0,1792.8 L2228.0,1798.0 L2231.0,1797.1 L2234.0,1797.7 L2237.0,1790.8 L2240.0,1794.3 L2243.0,1798.9 L2246.0,1800.7 L2249.0,1798.5 L2252.0,1797.8 L2255.0,1800.0 L2258.0,1801.0 L2261.0,1804.1 L2264.0,1799.1 L2267.0,1795.1 L2270.0,1799.2 L2273.0,1789.7 L2276.0,1797.6 L2279.0,1795.6 L2282.0,1797.3 L2285.0,1799.3 L2288.0,1797.6 L2291.0,1791.6 L2294.0,1796.0 L2297.0,1794.2 L2300.0,1797.4 L2303.0,1798.9 L2306.0,1793.5 L2309.0,1800.4 L2312.0,1802.8 L2315.0,1796.4 L2318.0,1800.5 L2321.0,1791.4 L2324.0,1795.2 L2327.0,1801.5 L2330.0,1790.1 L2332.9,1795.4 L2335.7,1793.7 L2338.2,1802.3 L2340.1,1802.3" fill="none" stroke="#22a52a" stroke-width="7" stroke-linejoin="round" stroke-linecap="round"/>
<path d="M330.7,507.8 L331.2,508.9 L331.7,510.2 L332.4,511.8 L333.1,513.5 L333.8,515.3 L334.6,517.1 L335.3,518.9 L336.1,520.8 L336.9,522.6 L337.6,524.5 L338.4,526.3 L339.1,528.2 L339.9,530.0 L340.6,531.9 L341.4,533.8 L342.2,535.6 L342.9,537.5 L343.7,539.3 L344.4,541.2 L345.1,543.0 L345.9,544.9 L346.6,546.8 L347.3,548.6 L348.0,550.5 L348.7,552.4 L349.3,554.3 L350.0,556.1 L350.7,558.0 L351.4,559.9 L352.0,561.8 L352.7,563.7 L353.4,565.6 L354.1,567.4 L354.7,569.3 L355.4,571.2 L356.1,573.1 L356.7,575.0 L357.4,576.9 L358.1,578.8 L358.7,580.6 L359.4,582.5 L360.1,584.4 L360.7,586.3 L361.4,588.2 L362.1,590.0 L362.9,591.9 L363.6,593.8 L364.3,595.6 L365.1,597.5 L365.8,599.3 L366.6,601.2 L367.3,603.0 L368.1,604.9 L368.8,606.8 L369.5,608.6 L370.2,610.5 L370.9,612.4 L371.6,614.2 L372.3,616.1 L373.0,618.0 L373.7,619.9 L374.4,621.8 L375.1,623.6 L375.7,625.5 L376.4,627.4 L377.1,629.3 L377.8,631.2 L378.5,633.0 L379.2,634.9 L379.8,636.8 L380.5,638.7 L381.2,640.6 L381.8,642.5 L382.5,644.3 L383.1,646.2 L383.8,648.1 L384.4,650.0 L385.0,651.9 L385.6,653.8 L386.1,655.8 L386.6,657.7 L387.1,659.6 L387.5,661.6 L387.9,663.6 L388.3,665.5 L388.6,667.5 L389.0,669.4 L389.4,671.4 L389.8,673.4 L390.1,675.3 L390.5,677.3 L390.8,679.3 L391.2,681.3 L391.5,683.2 L391.8,685.2 L392.1,687.2 L392.5,689.1 L392.8,691.1 L393.1,693.1 L393.4,695.1 L393.7,697.0 L394.0,699.0 L394.3,701.0 L394.7,703.0 L395.0,705.0 L395.3,706.9 L395.5,708.9 L395.8,710.9 L396.1,712.9 L396.4,714.8 L396.7,716.8 L397.0,718.8 L397.3,720.8 L397.5,722.8 L397.8,724.7 L398.1,726.7 L398.4,728.7 L398.7,730.7 L398.9,732.7 L399.2,734.6 L399.5,736.6 L399.8,738.6 L400.0,740.6 L400.3,742.6 L400.6,744.6 L400.9,746.5 L401.1,748.5 L401.4,750.5 L401.7,752.5 L402.0,754.5 L402.2,756.4 L402.5,758.4 L402.8,760.4 L403.1,762.4 L403.3,764.4 L403.6,766.3 L403.9,768.3 L404.2,770.3 L404.5,772.3 L404.8,774.3 L405.0,776.2 L405.3,778.2 L405.6,780.2 L405.9,782.2 L406.2,784.2 L406.5,786.1 L406.8,788.1 L407.0,790.1 L407.4,792.1 L407.7,794.1 L408.0,796.0 L408.3,798.0 L408.6,800.0 L408.9,802.0 L409.2,803.9 L409.5,805.9 L409.9,807.9 L410.2,809.9 L410.5,811.8 L410.9,813.8 L411.2,815.8 L411.6,817.7 L412.0,819.7 L412.3,821.7 L412.7,823.6 L413.1,825.6 L413.5,827.5 L413.9,829.5 L414.3,831.5 L414.7,833.4 L415.2,835.4 L415.6,837.3 L416.1,839.3 L416.6,841.2 L417.0,843.1 L417.5,845.1 L418.0,847.0 L418.5,849.0 L419.0,850.9 L419.5,852.8 L420.0,854.8 L420.5,856.7 L421.0,858.6 L421.5,860.6 L422.1,862.5 L422.6,864.4 L423.1,866.4 L423.6,868.3 L424.2,870.2 L424.7,872.2 L425.2,874.1 L425.7,876.0 L426.3,877.9 L426.8,879.9 L427.3,881.8 L427.9,883.7 L428.4,885.7 L428.9,887.6 L429.5,889.5 L430.1,891.4 L430.6,893.3 L431.2,895.2 L431.8,897.1 L432.5,899.0 L433.1,900.9 L433.8,902.8 L434.5,904.7 L435.1,906.6 L435.8,908.5 L436.5,910.4 L437.1,912.2 L437.8,914.1 L438.5,916.0 L439.1,917.9 L439.8,919.8 L440.5,921.7 L441.2,923.5 L441.8,925.4 L442.5,927.3 L443.2,929.2 L443.9,931.1 L444.6,932.9 L445.3,934.8 L446.1,936.6 L446.9,938.5 L447.7,940.3 L448.6,942.0 L449.6,943.8 L450.6,945.4 L451.7,947.1 L452.9,948.7 L454.1,950.4 L455.3,951.9 L456.5,953.5 L457.8,954.9 L459.2,956.3 L460.7,957.7 L462.2,958.9 L463.7,960.1 L465.3,961.2 L467.0,962.1 L468.6,962.7 L470.3,963.1 L472.1,963.1 L473.9,962.8 L475.6,962.3 L477.4,961.6 L479.2,960.8 L480.8,959.8 L482.5,958.7 L484.0,957.5 L485.5,956.3 L487.0,954.9 L488.4,953.5 L489.9,952.1 L491.3,950.8 L492.7,949.4 L494.2,948.0 L495.6,946.6 L497.1,945.2 L498.6,943.9 L500.0,942.5 L501.5,941.1 L502.9,939.8 L504.3,938.3 L505.7,936.9 L507.1,935.5 L508.4,934.0 L509.8,932.5 L511.1,931.0 L512.4,929.5 L513.7,928.0 L515.0,926.5 L516.3,925.0 L517.7,923.5 L519.0,922.0 L520.3,920.5 L521.7,919.0 L523.0,917.5 L524.4,916.1 L525.8,914.6 L527.1,913.1 L528.5,911.7 L529.8,910.2 L531.2,908.7 L532.5,907.2 L533.9,905.8 L535.3,904.3 L536.6,902.8 L538.0,901.4 L539.4,899.9 L540.8,898.5 L542.2,897.1 L543.6,895.7 L545.0,894.3 L546.5,892.9 L548.0,891.6 L549.5,890.3 L551.0,889.0 L552.5,887.7 L554.1,886.4 L555.6,885.2 L557.2,884.0 L558.8,882.7 L560.4,881.5 L561.9,880.3 L563.4,879.0 L564.9,877.6 L566.3,876.3 L567.7,874.8 L569.1,873.4 L570.5,871.9 L571.9,870.5 L573.3,869.1 L574.7,867.6 L576.1,866.2 L577.5,864.9 L579.0,863.5 L580.5,862.2 L582.0,860.8 L583.4,859.5 L584.9,858.1 L586.3,856.7 L587.7,855.3 L589.1,853.8 L590.4,852.4 L591.8,850.9 L593.2,849.4 L594.5,848.0 L596.0,846.6 L597.5,845.3 L599.0,844.0 L600.6,842.8 L602.2,841.7 L603.8,840.6 L605.5,839.7 L607.3,838.9 L609.1,838.2 L611.0,837.7 L612.9,837.2 L614.9,836.9 L616.9,836.6 L618.8,836.4 L620.8,836.3 L622.8,836.1 L624.8,836.1 L626.8,836.1 L628.8,836.1 L630.8,836.2 L632.7,836.3 L634.7,836.6 L636.6,836.9 L638.5,837.4 L640.4,838.0 L642.2,838.7 L644.1,839.5 L645.9,840.4 L647.6,841.3 L649.4,842.2 L651.1,843.3 L652.7,844.4 L654.4,845.5 L656.0,846.6 L657.6,847.9 L659.1,849.1 L660.6,850.4 L661.9,851.9 L663.3,853.3 L664.5,854.9 L665.7,856.4 L666.9,858.1 L668.0,859.7 L669.0,861.4 L670.0,863.1 L670.9,864.9 L671.7,866.7 L672.5,868.5 L673.2,870.4 L674.0,872.2 L674.7,874.1 L675.5,876.0 L676.2,877.8 L677.0,879.7 L677.8,881.5 L678.6,883.3 L679.4,885.1 L680.2,887.0 L681.1,888.8 L681.9,890.6 L682.8,892.4 L683.6,894.2 L684.5,896.0 L685.4,897.8 L686.3,899.6 L687.2,901.4 L688.1,903.2 L689.0,905.0 L689.9,906.7 L690.8,908.5 L691.7,910.3 L692.6,912.1 L693.4,913.9 L694.3,915.7 L695.2,917.5 L696.1,919.3 L696.9,921.1 L697.7,922.9 L698.6,924.7 L699.4,926.6 L700.2,928.4 L701.0,930.2 L701.8,932.1 L702.6,933.9 L703.5,935.7 L704.3,937.5 L705.2,939.3 L706.2,941.0 L707.1,942.8 L708.1,944.6 L709.0,946.3 L710.0,948.1 L710.9,949.9 L711.8,951.6 L712.8,953.4 L713.7,955.1 L714.7,956.9 L715.6,958.7 L716.5,960.5 L717.5,962.2 L718.4,964.0 L719.3,965.7 L720.3,967.5 L721.2,969.3 L722.2,971.0 L723.1,972.8 L724.1,974.6 L725.0,976.3 L726.0,978.1 L726.9,979.8 L727.9,981.6 L728.8,983.4 L729.7,985.1 L730.7,986.9 L731.6,988.7 L732.6,990.4 L733.5,992.2 L734.5,993.9 L735.5,995.7 L736.4,997.4 L737.4,999.2 L738.4,1000.9 L739.4,1002.7 L740.4,1004.4 L741.3,1006.2 L742.3,1007.9 L743.2,1009.7 L744.2,1011.4 L745.1,1013.2 L746.0,1015.0 L746.9,1016.8 L747.8,1018.6 L748.7,1020.4 L749.6,1022.2 L750.5,1023.9 L751.4,1025.7 L752.3,1027.5 L753.3,1029.2 L754.2,1031.0 L755.2,1032.8 L756.2,1034.5 L757.1,1036.2 L758.1,1038.0 L759.2,1039.7 L760.2,1041.4 L761.2,1043.1 L762.3,1044.8 L763.4,1046.5 L764.4,1048.2 L765.5,1049.9 L766.6,1051.5 L767.8,1053.2 L768.9,1054.8 L770.0,1056.5 L771.2,1058.1 L772.3,1059.8 L773.5,1061.4 L774.6,1063.0 L775.8,1064.6 L777.0,1066.2 L778.2,1067.8 L779.4,1069.4 L780.6,1071.0 L781.8,1072.6 L783.1,1074.2 L784.3,1075.8 L785.4,1077.4 L786.6,1079.0 L787.8,1080.6 L788.9,1082.3 L790.1,1083.9 L791.2,1085.6 L792.4,1087.2 L793.5,1088.9 L794.6,1090.5 L795.7,1092.2 L796.8,1093.8 L797.9,1095.5 L799.0,1097.2 L800.1,1098.8 L801.3,1100.5 L802.4,1102.2 L803.5,1103.8 L804.7,1105.4 L805.9,1107.0 L807.1,1108.6 L808.3,1110.2 L809.5,1111.8 L810.8,1113.4 L812.0,1114.9 L813.2,1116.5 L814.5,1118.1 L815.7,1119.7 L816.9,1121.2 L818.2,1122.8 L819.4,1124.4 L820.6,1126.0 L821.8,1127.6 L823.0,1129.2 L824.1,1130.8 L825.3,1132.5 L826.4,1134.1 L827.5,1135.8 L828.7,1137.4 L829.8,1139.1 L831.0,1140.7 L832.1,1142.3 L833.2,1144.0 L834.3,1145.7 L835.5,1147.3 L836.6,1149.0 L837.7,1150.7 L838.7,1152.3 L839.8,1154.0 L840.9,1155.7 L842.0,1157.4 L843.0,1159.1 L844.1,1160.8 L845.2,1162.4 L846.3,1164.1 L847.4,1165.8 L848.5,1167.5 L849.6,1169.1 L850.7,1170.8 L851.9,1172.4 L853.1,1174.0 L854.2,1175.6 L855.4,1177.2 L856.6,1178.8 L857.8,1180.4 L859.0,1182.0 L860.2,1183.6 L861.4,1185.2 L862.6,1186.8 L863.8,1188.4 L865.0,1190.0 L866.2,1191.6 L867.4,1193.2 L868.6,1194.8 L869.8,1196.4 L871.0,1198.0 L872.2,1199.6 L873.4,1201.2 L874.6,1202.8 L875.8,1204.5 L877.0,1206.1 L878.1,1207.7 L879.2,1209.4 L880.3,1211.0 L881.4,1212.8 L882.4,1214.5 L883.3,1216.2 L884.3,1218.0 L885.3,1219.7 L886.2,1221.5 L887.2,1223.2 L888.1,1225.0 L889.1,1226.8 L890.0,1228.5 L891.0,1230.3 L891.9,1232.0 L892.9,1233.8 L893.8,1235.6 L894.7,1237.3 L895.6,1239.1 L896.5,1240.9 L897.4,1242.7 L898.2,1244.5 L899.1,1246.3 L899.9,1248.2 L900.8,1250.0 L901.6,1251.8 L902.4,1253.6 L903.3,1255.4 L904.1,1257.2 L905.0,1259.0 L905.8,1260.9 L906.7,1262.7 L907.6,1264.4 L908.5,1266.2 L909.4,1268.0 L910.3,1269.8 L911.2,1271.6 L912.1,1273.4 L913.0,1275.1 L913.9,1276.9 L914.8,1278.7 L915.7,1280.5 L916.6,1282.3 L917.4,1284.1 L918.3,1285.9 L919.2,1287.7 L920.0,1289.5 L920.9,1291.3 L921.7,1293.2 L922.5,1295.0 L923.2,1296.8 L923.9,1298.7 L924.6,1300.6 L925.3,1302.5 L926.0,1304.3 L926.7,1306.2 L927.3,1308.1 L928.0,1310.0 L928.7,1311.9 L929.4,1313.8 L930.1,1315.6 L930.7,1317.5 L931.4,1319.4 L932.1,1321.3 L932.8,1323.1 L933.6,1325.0 L934.3,1326.9 L935.1,1328.7 L935.8,1330.5 L936.6,1332.4 L937.5,1334.2 L938.3,1336.0 L939.1,1337.8 L940.0,1339.6 L940.9,1341.4 L941.8,1343.2 L942.8,1344.9 L943.7,1346.7 L944.7,1348.4 L945.7,1350.2 L946.7,1351.9 L947.7,1353.7 L948.6,1355.4 L949.6,1357.1 L950.7,1358.9 L951.7,1360.6 L952.7,1362.3 L953.7,1364.0 L954.7,1365.8 L955.8,1367.5 L956.8,1369.2 L957.9,1370.9 L959.0,1372.5 L960.0,1374.2 L961.1,1375.9 L962.2,1377.6 L963.3,1379.3 L964.3,1381.0 L965.4,1382.7 L966.4,1384.4 L967.4,1386.1 L968.4,1387.9 L969.4,1389.6 L970.4,1391.3 L971.4,1393.1 L972.4,1394.8 L973.4,1396.5 L974.4,1398.3 L975.4,1400.0 L976.4,1401.7 L977.4,1403.4 L978.5,1405.1 L979.5,1406.9 L980.5,1408.6 L981.5,1410.3 L982.5,1412.1 L983.4,1413.8 L984.4,1415.6 L985.4,1417.3 L986.3,1419.1 L987.3,1420.8 L988.2,1422.6 L989.2,1424.4 L990.1,1426.1 L991.1,1427.9 L992.0,1429.6 L993.0,1431.4 L993.9,1433.2 L994.8,1434.9 L995.8,1436.7 L996.8,1438.4 L997.7,1440.2 L998.7,1441.9 L999.7,1443.7 L1000.7,1445.4 L1001.7,1447.2 L1002.7,1448.9 L1003.7,1450.6 L1004.7,1452.4 L1005.7,1454.1 L1006.7,1455.8 L1007.7,1457.5 L1008.7,1459.3 L1009.7,1461.0 L1010.7,1462.7 L1011.7,1464.5 L1012.7,1466.2 L1013.7,1467.9 L1014.6,1469.7 L1015.5,1471.5 L1016.5,1473.2 L1017.4,1475.0 L1018.4,1476.8 L1019.4,1478.5 L1020.4,1480.2 L1021.4,1481.9 L1022.4,1483.6 L1023.5,1485.3 L1024.6,1487.0 L1025.7,1488.7 L1026.8,1490.4 L1027.9,1492.0 L1028.9,1493.7 L1030.0,1495.4 L1031.1,1497.1 L1032.2,1498.8 L1033.2,1500.5 L1034.3,1502.2 L1035.4,1503.8 L1036.5,1505.5 L1037.6,1507.2 L1038.8,1508.8 L1039.9,1510.4 L1041.1,1512.0 L1042.3,1513.7 L1043.5,1515.3 L1044.7,1516.9 L1045.9,1518.4 L1047.1,1520.0 L1048.3,1521.6 L1049.6,1523.2 L1050.8,1524.7 L1052.1,1526.3 L1053.3,1527.9 L1054.6,1529.4 L1055.9,1530.9 L1057.2,1532.5 L1058.4,1534.0 L1059.7,1535.5 L1061.1,1537.0 L1062.4,1538.5 L1063.7,1540.0 L1065.1,1541.5 L1066.4,1543.0 L1067.8,1544.5 L1069.1,1545.9 L1070.5,1547.4 L1071.8,1548.9 L1073.2,1550.4 L1074.5,1551.8 L1075.9,1553.3 L1077.2,1554.8 L1078.6,1556.2 L1080.0,1557.7 L1081.4,1559.1 L1082.8,1560.5 L1084.3,1561.8 L1085.8,1563.2 L1087.2,1564.5 L1088.7,1565.8 L1090.2,1567.2 L1091.7,1568.5 L1093.1,1569.9 L1094.6,1571.3 L1096.0,1572.7 L1097.4,1574.1 L1098.8,1575.6 L1100.2,1577.0 L1101.7,1578.3 L1103.1,1579.7 L1104.6,1581.0 L1106.2,1582.2 L1107.8,1583.5 L1109.4,1584.7 L1111.0,1585.8 L1112.6,1587.0 L1114.3,1588.0 L1116.0,1589.1 L1117.7,1590.1 L1119.4,1591.1 L1121.2,1592.1 L1122.9,1593.1 L1124.7,1594.0 L1126.5,1595.0 L1128.2,1595.9 L1130.0,1596.7 L1131.9,1597.6 L1133.7,1598.4 L1135.5,1599.2 L1137.4,1599.9 L1139.2,1600.7 L1141.1,1601.4 L1142.9,1602.1 L1144.8,1602.7 L1146.7,1603.3 L1148.7,1603.8 L1150.6,1604.3 L1152.5,1604.8 L1154.5,1605.2 L1156.4,1605.6 L1158.4,1605.9 L1160.4,1606.2 L1162.4,1606.5 L1164.3,1606.7 L1166.3,1606.9 L1168.3,1607.0 L1170.3,1607.1 L1172.3,1607.2 L1174.3,1607.3 L1176.3,1607.3 L1178.3,1607.3 L1180.3,1607.3 L1182.3,1607.2 L1184.3,1607.1 L1186.3,1607.1 L1188.3,1607.0 L1190.3,1606.9 L1192.3,1606.8 L1194.3,1606.7 L1196.3,1606.6 L1198.3,1606.5 L1200.3,1606.4 L1202.3,1606.2 L1204.3,1606.0 L1206.3,1605.9 L1208.2,1605.7 L1210.2,1605.5 L1212.2,1605.3 L1214.2,1605.1 L1216.2,1604.9 L1218.2,1604.7 L1220.2,1604.6 L1222.2,1604.5 L1224.2,1604.3 L1226.2,1604.2 L1228.2,1604.1 L1230.2,1604.0 L1232.2,1603.9 L1234.2,1603.9 L1236.2,1603.8 L1238.2,1603.8 L1240.2,1603.9 L1242.1,1604.0 L1244.1,1604.1 L1246.1,1604.3 L1248.1,1604.6 L1250.1,1604.8 L1252.1,1605.1 L1254.0,1605.4 L1256.0,1605.7 L1258.0,1606.0 L1260.0,1606.3 L1261.9,1606.6 L1263.9,1606.9 L1265.9,1607.2 L1267.9,1607.4 L1269.9,1607.7 L1271.8,1607.9 L1273.8,1608.1 L1275.8,1608.3 L1277.8,1608.4 L1279.8,1608.5 L1281.8,1608.6 L1283.8,1608.7 L1285.8,1608.7 L1287.8,1608.8 L1289.8,1608.8 L1291.8,1608.8 L1293.8,1608.9 L1295.8,1608.9 L1297.8,1609.0 L1299.8,1609.0 L1301.8,1609.0 L1303.8,1609.1 L1305.8,1609.1 L1307.8,1609.1 L1309.8,1609.2 L1311.8,1609.2 L1313.8,1609.2 L1315.8,1609.3 L1317.8,1609.3 L1319.8,1609.3 L1321.8,1609.4 L1323.8,1609.4 L1325.8,1609.4 L1327.8,1609.5 L1329.8,1609.5 L1331.8,1609.5 L1333.8,1609.5 L1335.8,1609.5 L1337.8,1609.5 L1339.8,1609.6 L1341.8,1609.6 L1343.8,1609.6 L1345.8,1609.6 L1347.8,1609.6 L1349.8,1609.6 L1351.8,1609.6 L1353.8,1609.6 L1355.8,1609.7 L1357.8,1609.7 L1359.8,1609.7 L1361.8,1609.7 L1363.8,1609.8 L1365.8,1609.8 L1367.8,1609.9 L1369.8,1610.0 L1371.8,1610.1 L1373.8,1610.2 L1375.8,1610.3 L1377.8,1610.4 L1379.8,1610.5 L1381.8,1610.6 L1383.8,1610.7 L1385.8,1610.9 L1387.8,1611.0 L1389.7,1611.3 L1391.7,1611.5 L1393.7,1611.8 L1395.6,1612.2 L1397.6,1612.6 L1399.5,1613.1 L1401.4,1613.6 L1403.2,1614.3 L1404.9,1615.2 L1406.6,1616.1 L1408.2,1617.3 L1409.7,1618.5 L1411.2,1619.8 L1412.7,1621.1 L1414.1,1622.5 L1415.5,1624.0 L1416.8,1625.4 L1418.1,1626.9 L1419.4,1628.5 L1420.6,1630.0 L1421.9,1631.6 L1423.1,1633.2 L1424.4,1634.7 L1425.7,1636.2 L1427.0,1637.7 L1428.3,1639.2 L1429.7,1640.6 L1431.1,1642.1 L1432.5,1643.5 L1434.0,1644.8 L1435.5,1646.2 L1437.0,1647.5 L1438.5,1648.7 L1440.1,1649.9 L1441.7,1651.1 L1443.4,1652.2 L1445.0,1653.3 L1446.7,1654.4 L1448.4,1655.5 L1450.1,1656.6 L1451.8,1657.7 L1453.5,1658.7 L1455.2,1659.7 L1456.9,1660.7 L1458.6,1661.7 L1460.4,1662.7 L1462.1,1663.7 L1463.9,1664.7 L1465.6,1665.7 L1467.4,1666.7 L1469.1,1667.6 L1470.9,1668.6 L1472.6,1669.5 L1474.4,1670.4 L1476.2,1671.3 L1478.0,1672.1 L1479.9,1672.9 L1481.7,1673.7 L1483.6,1674.4 L1485.4,1675.2 L1487.3,1675.9 L1489.1,1676.6 L1491.0,1677.4 L1492.9,1678.1 L1494.7,1678.8 L1496.6,1679.4 L1498.5,1680.1 L1500.4,1680.7 L1502.3,1681.4 L1504.2,1682.0 L1506.1,1682.6 L1508.0,1683.2 L1509.9,1683.8 L1511.8,1684.4 L1513.7,1685.0 L1515.7,1685.5 L1517.6,1686.0 L1519.5,1686.5 L1521.5,1687.0 L1523.4,1687.5 L1525.4,1687.9 L1527.3,1688.4 L1529.3,1688.8 L1531.2,1689.3 L1533.2,1689.7 L1535.1,1690.2 L1537.1,1690.6 L1539.0,1691.0 L1541.0,1691.4 L1542.9,1691.8 L1544.9,1692.2 L1546.9,1692.6 L1548.8,1693.0 L1550.8,1693.4 L1552.7,1693.8 L1554.7,1694.2 L1556.7,1694.6 L1558.6,1695.0 L1560.6,1695.4 L1562.5,1695.8 L1564.5,1696.2 L1566.5,1696.6 L1568.4,1697.0 L1570.4,1697.5 L1572.3,1697.9 L1574.2,1698.4 L1576.2,1698.9 L1578.1,1699.3 L1580.1,1699.8 L1582.0,1700.3 L1584.0,1700.8 L1585.9,1701.3 L1587.8,1701.7 L1589.8,1702.2 L1591.7,1702.7 L1593.7,1703.1 L1595.6,1703.5 L1597.6,1703.8 L1599.6,1704.2 L1601.6,1704.5 L1603.5,1704.8 L1605.5,1705.0 L1607.5,1705.3 L1609.5,1705.6 L1611.5,1705.8 L1613.4,1706.1 L1615.4,1706.4 L1617.4,1706.6 L1619.4,1706.9 L1621.4,1707.2 L1623.4,1707.4 L1625.3,1707.7 L1627.3,1707.9 L1629.3,1708.2 L1631.3,1708.4 L1633.3,1708.7 L1635.3,1708.9 L1637.2,1709.2 L1639.2,1709.5 L1641.2,1709.7 L1643.2,1710.0 L1645.2,1710.3 L1647.1,1710.6 L1649.1,1710.9 L1651.1,1711.3 L1653.1,1711.6 L1655.0,1712.0 L1657.0,1712.4 L1658.9,1712.8 L1660.9,1713.2 L1662.9,1713.6 L1664.8,1713.9 L1666.8,1714.3 L1668.7,1714.7 L1670.7,1715.1 L1672.7,1715.5 L1674.6,1715.9 L1676.6,1716.3 L1678.6,1716.7 L1680.5,1717.1 L1682.5,1717.5 L1684.4,1718.0 L1686.4,1718.4 L1688.3,1718.9 L1690.3,1719.3 L1692.2,1719.8 L1694.2,1720.2 L1696.1,1720.7 L1698.1,1721.1 L1700.0,1721.6 L1702.0,1722.0 L1703.9,1722.5 L1705.8,1722.9 L1707.8,1723.4 L1709.7,1723.8 L1711.7,1724.3 L1713.6,1724.8 L1715.6,1725.3 L1717.5,1725.7 L1719.5,1726.2 L1721.4,1726.7 L1723.3,1727.2 L1725.3,1727.7 L1727.2,1728.1 L1729.2,1728.6 L1731.1,1729.1 L1733.0,1729.6 L1735.0,1730.1 L1736.9,1730.6 L1738.9,1731.0 L1740.8,1731.5 L1742.7,1732.0 L1744.7,1732.5 L1746.6,1733.0 L1748.6,1733.5 L1750.5,1734.0 L1752.4,1734.5 L1754.4,1735.0 L1756.3,1735.4 L1758.3,1735.9 L1760.2,1736.4 L1762.2,1736.8 L1764.1,1737.3 L1766.1,1737.7 L1768.0,1738.1 L1770.0,1738.5 L1771.9,1738.9 L1773.9,1739.3 L1775.9,1739.7 L1777.8,1740.0 L1779.8,1740.4 L1781.8,1740.8 L1783.7,1741.2 L1785.7,1741.5 L1787.7,1741.9 L1789.6,1742.3 L1791.6,1742.6 L1793.6,1742.9 L1795.5,1743.2 L1797.5,1743.4 L1799.5,1743.6 L1801.5,1743.8 L1803.5,1743.9 L1805.5,1744.1 L1807.5,1744.2 L1809.5,1744.3 L1811.5,1744.5 L1813.5,1744.6 L1815.5,1744.7 L1817.5,1744.9 L1819.5,1745.0 L1821.5,1745.1 L1823.4,1745.3 L1825.4,1745.4 L1827.4,1745.6 L1829.4,1745.7 L1831.4,1745.9 L1833.4,1746.0 L1835.4,1746.2 L1837.4,1746.3 L1839.4,1746.5 L1841.4,1746.7 L1843.4,1746.9 L1845.4,1747.2 L1847.3,1747.4 L1849.3,1747.8 L1851.3,1748.1 L1853.2,1748.5 L1855.2,1748.8 L1857.2,1749.2 L1859.1,1749.6 L1861.1,1750.0 L1863.0,1750.4 L1865.0,1750.8 L1867.0,1751.2 L1868.9,1751.6 L1870.9,1752.0 L1872.9,1752.4 L1874.8,1752.8 L1876.8,1753.1 L1878.7,1753.5 L1880.7,1753.9 L1882.7,1754.3 L1884.6,1754.6 L1886.6,1755.0 L1888.6,1755.3 L1890.6,1755.6 L1892.5,1756.0 L1894.5,1756.3 L1896.5,1756.7 L1898.4,1757.0 L1900.4,1757.3 L1902.4,1757.7 L1904.4,1758.0 L1906.3,1758.4 L1908.3,1758.7 L1910.3,1759.0 L1912.2,1759.4 L1914.2,1759.7 L1916.2,1760.1 L1918.1,1760.4 L1920.1,1760.8 L1922.1,1761.2 L1924.0,1761.6 L1926.0,1761.9 L1928.0,1762.4 L1929.9,1762.8 L1931.9,1763.2 L1933.8,1763.6 L1935.8,1764.0 L1937.7,1764.4 L1939.7,1764.8 L1941.7,1765.2 L1943.6,1765.7 L1945.6,1766.1 L1947.5,1766.5 L1949.5,1766.9 L1951.4,1767.4 L1953.4,1767.8 L1955.3,1768.3 L1957.3,1768.7 L1959.2,1769.2 L1961.2,1769.6 L1963.1,1770.1 L1965.1,1770.5 L1967.0,1771.0 L1969.0,1771.4 L1970.9,1771.9 L1972.9,1772.3 L1974.8,1772.7 L1976.8,1773.1 L1978.8,1773.4 L1980.7,1773.8 L1982.7,1774.1 L1984.7,1774.5 L1986.6,1774.8 L1988.6,1775.1 L1990.6,1775.4 L1992.6,1775.8 L1994.5,1776.1 L1996.5,1776.4 L1998.5,1776.7 L2000.5,1776.9 L2002.5,1777.2 L2004.4,1777.4 L2006.4,1777.6 L2008.4,1777.8 L2010.4,1777.9 L2012.4,1778.1 L2014.4,1778.3 L2016.4,1778.5 L2018.4,1778.7 L2020.4,1778.8 L2022.4,1779.0 L2024.4,1779.2 L2026.4,1779.4 L2028.3,1779.5 L2030.3,1779.6 L2032.3,1779.8 L2034.3,1779.9 L2036.3,1780.0 L2038.3,1780.0 L2040.3,1780.1 L2042.3,1780.2 L2044.3,1780.3 L2046.3,1780.4 L2048.3,1780.4 L2050.3,1780.5 L2052.3,1780.6 L2054.3,1780.7 L2056.3,1780.8 L2058.3,1780.8 L2060.3,1780.9 L2062.3,1781.0 L2064.3,1781.1 L2066.3,1781.2 L2068.3,1781.2 L2070.3,1781.3 L2072.3,1781.4 L2074.3,1781.5 L2076.3,1781.6 L2078.3,1781.6 L2080.3,1781.7 L2082.3,1781.8 L2084.3,1781.9 L2086.3,1782.0 L2088.3,1782.0 L2090.3,1782.1 L2092.3,1782.2 L2094.3,1782.3 L2096.3,1782.4 L2098.3,1782.5 L2100.3,1782.6 L2102.3,1782.7 L2104.3,1782.8 L2106.3,1782.9 L2108.3,1783.0 L2110.3,1783.1 L2112.3,1783.2 L2114.3,1783.3 L2116.3,1783.4 L2118.3,1783.5 L2120.3,1783.6 L2122.3,1783.7 L2124.3,1783.8 L2126.3,1783.9 L2128.3,1784.0 L2130.2,1784.1 L2132.2,1784.2 L2134.2,1784.3 L2136.2,1784.4 L2138.2,1784.5 L2140.2,1784.6 L2142.2,1784.7 L2144.2,1784.8 L2146.2,1784.9 L2148.2,1785.0 L2150.2,1785.1 L2152.2,1785.2 L2154.2,1785.3 L2156.2,1785.4 L2158.2,1785.5 L2160.2,1785.6 L2162.2,1785.7 L2164.2,1785.8 L2166.2,1785.9 L2168.2,1786.0 L2170.2,1786.1 L2172.2,1786.2 L2174.2,1786.3 L2176.2,1786.4 L2178.2,1786.5 L2180.2,1786.6 L2182.2,1786.7 L2184.2,1786.8 L2186.2,1786.9 L2188.2,1787.0 L2190.2,1787.1 L2192.2,1787.2 L2194.2,1787.3 L2196.2,1787.4 L2198.2,1787.5 L2200.2,1787.6 L2202.2,1787.7 L2204.2,1787.8 L2206.2,1787.9 L2208.2,1788.0 L2210.2,1788.1 L2212.2,1788.2 L2214.1,1788.3 L2216.1,1788.4 L2218.1,1788.5 L2220.1,1788.6 L2222.1,1788.7 L2224.1,1788.8 L2226.1,1788.9 L2228.1,1789.0 L2230.1,1789.1 L2232.1,1789.1 L2234.1,1789.2 L2236.1,1789.3 L2238.1,1789.4 L2240.1,1789.5 L2242.1,1789.6 L2244.1,1789.7 L2246.1,1789.8 L2248.1,1789.9 L2250.1,1790.0 L2252.1,1790.1 L2254.1,1790.2 L2256.1,1790.3 L2258.1,1790.4 L2260.1,1790.5 L2262.1,1790.6 L2264.1,1790.7 L2266.1,1790.8 L2268.1,1790.9 L2270.1,1791.0 L2272.1,1791.1 L2274.1,1791.2 L2276.1,1791.3 L2278.1,1791.4 L2280.1,1791.5 L2282.1,1791.6 L2284.1,1791.7 L2286.1,1791.8 L2288.1,1791.9 L2290.1,1792.0 L2292.1,1792.1 L2294.1,1792.2 L2296.1,1792.3 L2298.1,1792.4 L2300.0,1792.5 L2302.0,1792.6 L2304.0,1792.7 L2306.0,1792.8 L2308.0,1792.9 L2310.0,1793.0 L2312.0,1793.1 L2314.0,1793.2 L2316.0,1793.3 L2318.0,1793.4 L2320.0,1793.5 L2322.0,1793.6 L2324.0,1793.7 L2326.0,1793.8 L2328.0,1793.9 L2330.0,1794.0 L2332.0,1794.1 L2333.9,1794.2 L2335.7,1794.3 L2337.4,1794.4 L2338.9,1794.4 L2340.0,1794.5" fill="none" stroke="#2f9a3c" stroke-width="7" stroke-linejoin="round" stroke-linecap="butt" stroke-dasharray="14 16.5"/>
<path d="M329.6,540.8 L330.2,542.6 L330.9,544.9 L331.8,547.6 L332.7,550.4 L333.7,553.3 L334.6,556.1 L335.6,559.0 L336.6,561.8 L337.6,564.6 L338.6,567.5 L339.5,570.3 L340.5,573.1 L341.6,575.9 L342.6,578.8 L343.6,581.6 L344.7,584.4 L345.8,587.2 L346.9,590.0 L348.0,592.8 L349.1,595.6 L350.2,598.4 L351.3,601.1 L352.4,603.9 L353.6,606.7 L354.9,609.4 L356.1,612.1 L357.4,614.9 L358.6,617.6 L359.9,620.3 L361.1,623.0 L362.3,625.8 L363.5,628.6 L364.5,631.4 L365.5,634.2 L366.5,637.0 L367.4,639.9 L368.4,642.7 L369.3,645.6 L370.2,648.4 L371.2,651.3 L372.1,654.1 L373.1,657.0 L374.1,659.8 L375.1,662.7 L376.1,665.5 L377.1,668.3 L378.1,671.1 L379.1,673.9 L380.2,676.8 L381.2,679.6 L382.2,682.4 L383.3,685.2 L384.3,688.0 L385.3,690.9 L386.3,693.7 L387.4,696.5 L388.4,699.3 L389.4,702.1 L390.4,705.0 L391.5,707.8 L392.5,710.6 L393.5,713.4 L394.5,716.3 L395.6,719.1 L396.6,721.9 L397.6,724.7 L398.6,727.6 L399.6,730.4 L400.6,733.2 L401.5,736.1 L402.3,739.0 L403.1,741.9 L403.9,744.7 L404.7,747.6 L405.5,750.5 L406.2,753.4 L407.0,756.3 L407.8,759.2 L408.6,762.1 L409.4,765.0 L410.2,767.9 L411.0,770.8 L411.8,773.7 L412.6,776.6 L413.4,779.5 L414.3,782.4 L415.1,785.3 L416.0,788.1 L416.9,791.0 L417.8,793.8 L418.8,796.7 L419.8,799.5 L420.8,802.3 L421.8,805.2 L422.8,808.0 L423.8,810.8 L424.7,813.7 L425.6,816.5 L426.5,819.4 L427.3,822.3 L428.1,825.2 L428.8,828.1 L429.6,831.0 L430.4,833.9 L431.2,836.8 L431.9,839.7 L432.6,842.6 L433.4,845.5 L434.1,848.4 L434.8,851.4 L435.6,854.3 L436.3,857.2 L437.2,860.0 L438.0,862.9 L439.0,865.7 L440.0,868.6 L441.1,871.4 L442.2,874.2 L443.3,877.0 L444.5,879.7 L445.7,882.5 L446.9,885.2 L448.2,887.9 L449.5,890.6 L450.9,893.3 L452.4,895.9 L453.9,898.4 L455.5,901.0 L457.1,903.5 L458.8,906.0 L460.5,908.5 L462.3,910.8 L464.2,913.1 L466.2,915.3 L468.5,917.3 L470.8,919.1 L473.3,920.6 L475.9,922.0 L478.7,923.0 L481.5,923.7 L484.4,924.0 L487.3,924.0 L490.3,923.8 L493.2,923.3 L496.2,922.8 L499.1,922.2 L502.1,921.7 L505.0,921.1 L508.0,920.5 L510.9,919.8 L513.8,919.1 L516.7,918.3 L519.5,917.3 L522.4,916.3 L525.1,915.2 L527.9,914.0 L530.5,912.7 L533.1,911.2 L535.5,909.5 L537.9,907.7 L540.1,905.7 L542.2,903.5 L544.2,901.3 L546.2,899.1 L548.0,896.7 L549.9,894.4 L551.6,891.9 L553.3,889.5 L554.9,886.9 L556.4,884.4 L558.0,881.8 L559.5,879.2 L561.2,876.7 L562.9,874.3 L564.6,871.8 L566.3,869.4 L567.9,866.8 L569.4,864.2 L570.7,861.6 L571.8,858.8 L573.0,856.0 L574.1,853.3 L575.2,850.5 L576.4,847.7 L577.5,844.9 L578.6,842.1 L579.7,839.3 L580.8,836.5 L581.9,833.7 L583.0,831.0 L584.2,828.2 L585.3,825.4 L586.5,822.6 L587.7,819.9 L589.0,817.2 L590.3,814.5 L591.6,811.8 L593.0,809.1 L594.3,806.4 L595.7,803.8 L597.1,801.1 L598.6,798.5 L600.1,796.0 L601.8,793.5 L603.6,791.1 L605.5,788.9 L607.7,786.9 L610.0,785.0 L612.3,783.1 L614.6,781.3 L616.8,779.3 L618.8,777.2 L620.7,774.9 L622.6,772.7 L624.7,770.7 L627.1,769.1 L629.6,767.9 L632.4,767.2 L635.3,766.8 L638.3,766.7 L641.2,766.9 L644.1,767.4 L646.9,768.2 L649.6,769.4 L652.0,771.0 L654.3,772.8 L656.3,775.0 L658.2,777.3 L660.0,779.7 L661.5,782.2 L663.0,784.8 L664.4,787.5 L665.6,790.2 L666.8,793.0 L668.0,795.7 L669.1,798.5 L670.3,801.3 L671.4,804.0 L672.5,806.8 L673.7,809.6 L674.8,812.4 L676.0,815.1 L677.1,817.9 L678.2,820.7 L679.3,823.5 L680.3,826.3 L681.3,829.2 L682.3,832.0 L683.3,834.8 L684.3,837.7 L685.3,840.5 L686.4,843.3 L687.4,846.1 L688.4,848.9 L689.4,851.8 L690.3,854.6 L691.2,857.5 L692.1,860.4 L692.9,863.2 L693.7,866.1 L694.5,869.0 L695.4,871.9 L696.2,874.8 L697.0,877.7 L697.9,880.6 L698.7,883.4 L699.6,886.3 L700.5,889.2 L701.4,892.0 L702.4,894.9 L703.4,897.7 L704.5,900.5 L705.6,903.3 L706.7,906.0 L707.9,908.8 L709.2,911.5 L710.4,914.3 L711.7,917.0 L713.0,919.7 L714.3,922.4 L715.6,925.1 L717.0,927.7 L718.4,930.4 L719.8,933.1 L721.2,935.7 L722.5,938.4 L723.8,941.1 L725.1,943.8 L726.4,946.5 L727.6,949.3 L728.9,952.0 L730.1,954.7 L731.4,957.5 L732.6,960.2 L733.9,962.9 L735.2,965.6 L736.5,968.3 L737.9,971.0 L739.3,973.6 L740.7,976.3 L742.2,978.9 L743.7,981.5 L745.3,984.0 L746.9,986.6 L748.5,989.1 L750.1,991.6 L751.7,994.2 L753.3,996.7 L754.9,999.3 L756.5,1001.8 L758.1,1004.3 L759.7,1006.8 L761.4,1009.3 L763.2,1011.8 L764.9,1014.2 L766.6,1016.7 L768.3,1019.1 L770.0,1021.6 L771.6,1024.1 L773.2,1026.7 L774.9,1029.2 L776.5,1031.7 L778.1,1034.3 L779.7,1036.8 L781.3,1039.3 L782.9,1041.9 L784.5,1044.4 L786.0,1047.0 L787.5,1049.6 L788.9,1052.2 L790.4,1054.9 L791.8,1057.5 L793.2,1060.2 L794.7,1062.8 L796.1,1065.4 L797.5,1068.1 L799.0,1070.7 L800.4,1073.3 L801.9,1076.0 L803.3,1078.6 L804.8,1081.2 L806.2,1083.8 L807.7,1086.5 L809.1,1089.1 L810.5,1091.8 L811.9,1094.4 L813.3,1097.1 L814.7,1099.8 L816.0,1102.4 L817.4,1105.1 L818.7,1107.8 L820.0,1110.5 L821.3,1113.2 L822.6,1115.9 L823.9,1118.6 L825.2,1121.3 L826.5,1124.1 L827.7,1126.8 L829.0,1129.5 L830.3,1132.2 L831.5,1134.9 L832.8,1137.7 L834.1,1140.4 L835.3,1143.1 L836.6,1145.8 L837.9,1148.5 L839.3,1151.2 L840.6,1153.9 L841.9,1156.6 L843.2,1159.3 L844.5,1162.0 L845.9,1164.7 L847.2,1167.4 L848.6,1170.0 L849.9,1172.7 L851.3,1175.4 L852.7,1178.1 L854.0,1180.7 L855.4,1183.4 L856.8,1186.1 L858.1,1188.8 L859.4,1191.5 L860.8,1194.1 L862.1,1196.8 L863.4,1199.5 L864.7,1202.2 L866.1,1204.9 L867.4,1207.6 L868.7,1210.3 L870.0,1213.0 L871.4,1215.7 L872.7,1218.4 L874.1,1221.0 L875.5,1223.7 L876.8,1226.4 L878.2,1229.1 L879.6,1231.7 L881.0,1234.4 L882.3,1237.1 L883.7,1239.7 L885.1,1242.4 L886.4,1245.1 L887.8,1247.8 L889.0,1250.5 L890.3,1253.2 L891.4,1256.0 L892.6,1258.7 L893.7,1261.5 L894.9,1264.3 L896.0,1267.1 L897.1,1269.9 L898.2,1272.7 L899.3,1275.5 L900.4,1278.3 L901.5,1281.1 L902.5,1283.9 L903.6,1286.7 L904.7,1289.5 L905.7,1292.3 L906.8,1295.1 L907.9,1297.9 L909.0,1300.7 L910.1,1303.5 L911.2,1306.2 L912.4,1309.0 L913.6,1311.8 L914.7,1314.5 L915.9,1317.3 L917.0,1320.1 L918.2,1322.9 L919.3,1325.6 L920.5,1328.4 L921.6,1331.2 L922.8,1334.0 L923.9,1336.7 L925.1,1339.5 L926.2,1342.3 L927.3,1345.1 L928.4,1347.9 L929.5,1350.7 L930.5,1353.5 L931.6,1356.3 L932.6,1359.1 L933.6,1361.9 L934.6,1364.8 L935.6,1367.6 L936.6,1370.4 L937.6,1373.3 L938.6,1376.1 L939.7,1378.9 L940.8,1381.7 L941.9,1384.5 L943.1,1387.2 L944.2,1390.0 L945.4,1392.8 L946.6,1395.5 L947.8,1398.3 L949.1,1401.0 L950.3,1403.7 L951.5,1406.5 L952.8,1409.2 L954.0,1411.9 L955.3,1414.6 L956.6,1417.4 L957.8,1420.1 L959.1,1422.8 L960.3,1425.5 L961.6,1428.3 L962.9,1431.0 L964.2,1433.7 L965.5,1436.4 L966.8,1439.1 L968.2,1441.8 L969.5,1444.4 L971.0,1447.1 L972.5,1449.7 L974.0,1452.2 L975.6,1454.8 L977.1,1457.3 L978.7,1459.9 L980.4,1462.4 L982.1,1464.9 L983.9,1467.3 L985.7,1469.7 L987.5,1472.0 L989.4,1474.4 L991.3,1476.7 L993.1,1479.1 L995.0,1481.5 L996.8,1483.8 L998.6,1486.2 L1000.4,1488.6 L1002.2,1491.1 L1004.0,1493.5 L1005.7,1495.9 L1007.6,1498.3 L1009.4,1500.6 L1011.3,1503.0 L1013.1,1505.3 L1015.0,1507.7 L1017.0,1509.9 L1019.0,1512.1 L1021.1,1514.3 L1023.3,1516.3 L1025.5,1518.3 L1027.8,1520.2 L1030.1,1522.1 L1032.5,1524.0 L1034.9,1525.8 L1037.3,1527.6 L1039.7,1529.4 L1042.2,1531.1 L1044.6,1532.8 L1047.2,1534.4 L1049.7,1536.0 L1052.3,1537.6 L1054.8,1539.2 L1057.4,1540.7 L1060.0,1542.2 L1062.6,1543.6 L1065.3,1545.1 L1067.9,1546.5 L1070.6,1547.9 L1073.2,1549.3 L1075.9,1550.6 L1078.6,1551.9 L1081.3,1553.2 L1084.0,1554.6 L1086.7,1555.9 L1089.4,1557.2 L1092.1,1558.5 L1094.9,1559.6 L1097.7,1560.5 L1100.6,1561.3 L1103.5,1562.0 L1106.4,1562.6 L1109.3,1563.2 L1112.3,1563.8 L1115.2,1564.4 L1118.2,1564.8 L1121.2,1565.2 L1124.1,1565.5 L1127.1,1565.7 L1130.1,1565.9 L1133.1,1566.2 L1136.1,1566.4 L1139.1,1566.5 L1142.1,1566.5 L1145.1,1566.4 L1148.0,1566.1 L1151.0,1565.6 L1153.9,1565.1 L1156.9,1564.5 L1159.8,1563.9 L1162.7,1563.3 L1165.7,1562.6 L1168.6,1561.9 L1171.5,1561.1 L1174.3,1560.3 L1177.2,1559.4 L1180.1,1558.5 L1183.0,1557.7 L1185.8,1556.8 L1188.7,1555.8 L1191.5,1554.8 L1194.3,1553.8 L1197.1,1552.8 L1199.9,1551.7 L1202.7,1550.6 L1205.5,1549.5 L1208.3,1548.5 L1211.2,1547.4 L1214.0,1546.3 L1216.8,1545.2 L1219.5,1544.1 L1222.3,1543.0 L1225.1,1541.9 L1227.9,1540.8 L1230.7,1539.7 L1233.5,1538.6 L1236.3,1537.5 L1239.1,1536.4 L1241.9,1535.3 L1244.6,1534.1 L1247.4,1533.1 L1250.2,1532.0 L1253.1,1531.0 L1255.9,1530.1 L1258.8,1529.2 L1261.7,1528.3 L1264.5,1527.4 L1267.4,1526.6 L1270.3,1525.7 L1273.2,1524.9 L1276.0,1524.0 L1278.9,1523.1 L1281.8,1522.3 L1284.7,1521.4 L1287.5,1520.4 L1290.3,1519.4 L1293.2,1518.4 L1296.0,1517.4 L1298.8,1516.3 L1301.6,1515.3 L1304.4,1514.3 L1307.2,1513.2 L1310.1,1512.2 L1312.9,1511.1 L1315.7,1510.1 L1318.5,1509.0 L1321.3,1507.9 L1324.1,1506.9 L1326.9,1505.7 L1329.7,1504.6 L1332.4,1503.5 L1335.2,1502.4 L1338.0,1501.3 L1340.8,1500.3 L1343.7,1499.3 L1346.5,1498.4 L1349.4,1497.5 L1352.3,1496.7 L1355.2,1495.8 L1358.1,1495.0 L1361.0,1494.3 L1363.9,1493.6 L1366.8,1493.1 L1369.8,1492.7 L1372.8,1492.4 L1375.7,1492.2 L1378.7,1492.1 L1381.7,1492.1 L1384.7,1492.3 L1387.6,1492.7 L1390.6,1493.3 L1393.5,1493.9 L1396.3,1494.7 L1399.1,1495.6 L1401.8,1496.8 L1404.4,1498.2 L1406.9,1499.8 L1409.4,1501.5 L1411.8,1503.3 L1414.3,1505.0 L1416.7,1506.8 L1419.1,1508.6 L1421.5,1510.4 L1423.8,1512.3 L1426.1,1514.3 L1428.3,1516.2 L1430.6,1518.2 L1432.9,1520.2 L1435.2,1522.1 L1437.4,1524.0 L1439.8,1525.9 L1442.2,1527.7 L1444.7,1529.4 L1447.2,1531.0 L1449.8,1532.5 L1452.3,1534.5 L1454.9,1535.0 L1457.5,1536.1 L1460.1,1536.8 L1462.7,1539.9 L1465.3,1542.4 L1467.9,1543.1 L1470.5,1544.9 L1473.1,1546.8 L1475.7,1547.0 L1478.4,1550.8 L1481.0,1549.9 L1483.6,1552.1 L1486.3,1555.1 L1489.0,1554.5 L1491.7,1556.1 L1494.3,1557.0 L1497.0,1558.9 L1499.7,1558.5 L1502.4,1560.9 L1505.1,1564.0 L1507.8,1564.2 L1510.5,1565.1 L1513.3,1566.7 L1516.1,1567.8 L1518.9,1568.5 L1521.8,1569.7 L1524.6,1568.8 L1527.5,1571.5 L1530.4,1571.3 L1533.3,1573.4 L1536.1,1573.6 L1539.0,1573.6 L1541.9,1575.3 L1544.8,1575.3 L1547.6,1577.9 L1550.5,1577.9 L1553.4,1579.5 L1556.2,1578.7 L1559.1,1582.0 L1561.9,1581.3 L1564.8,1583.8 L1567.6,1584.3 L1570.5,1583.5 L1573.3,1585.8 L1576.1,1586.0 L1579.0,1587.9 L1581.8,1589.8 L1584.6,1590.1 L1587.5,1591.5 L1590.3,1590.3 L1593.1,1592.6 L1596.0,1593.8 L1598.8,1595.5 L1601.6,1594.9 L1604.4,1597.1 L1607.2,1598.0 L1610.0,1597.2 L1612.8,1598.8 L1615.6,1601.4 L1618.4,1600.9 L1621.2,1601.9 L1623.9,1605.2 L1626.7,1605.7 L1629.5,1606.3 L1632.3,1607.7 L1635.1,1608.3 L1637.9,1609.3 L1640.7,1610.5 L1643.5,1612.5 L1646.2,1614.6 L1649.0,1613.8 L1651.8,1615.4 L1654.6,1616.3 L1657.4,1616.3 L1660.2,1619.1 L1663.0,1620.9 L1665.8,1620.0 L1668.5,1623.1 L1671.3,1622.6 L1674.1,1625.7 L1676.9,1626.9 L1679.7,1626.1 L1682.5,1625.3 L1685.3,1628.4 L1688.1,1628.2 L1690.9,1629.4 L1693.7,1631.7 L1696.5,1634.7 L1699.3,1634.0 L1702.1,1634.8 L1705.0,1633.8 L1707.8,1636.3 L1710.6,1636.3 L1713.5,1639.7 L1716.3,1639.4 L1719.1,1641.0 L1722.0,1642.0 L1724.8,1642.8 L1727.6,1645.3 L1730.5,1645.7 L1733.3,1645.6 L1736.1,1647.3 L1738.9,1648.9 L1741.7,1651.1 L1744.4,1650.7 L1747.2,1653.6 L1749.9,1652.1 L1752.7,1653.7 L1755.5,1653.2 L1758.2,1657.5 L1761.0,1656.2 L1763.7,1657.4 L1766.5,1661.1 L1769.3,1660.2 L1772.1,1660.9 L1775.0,1664.2 L1777.9,1663.3 L1780.8,1665.6 L1783.7,1664.5 L1786.6,1666.8 L1789.6,1668.0 L1792.5,1667.3 L1795.4,1670.5 L1798.3,1668.1 L1801.1,1669.3 L1804.0,1670.6 L1806.8,1673.0 L1809.6,1672.1 L1812.5,1672.9 L1815.3,1675.0 L1818.1,1677.5 L1820.9,1676.0 L1823.7,1675.7 L1826.6,1678.5 L1829.4,1680.7 L1832.2,1679.9 L1835.0,1682.0 L1837.8,1679.9 L1840.7,1683.8 L1843.5,1684.9 L1846.4,1686.7 L1849.2,1687.2 L1852.0,1688.9 L1854.9,1687.0 L1857.7,1690.6 L1860.6,1687.8 L1863.4,1690.5 L1866.3,1694.2 L1869.1,1694.7 L1872.0,1691.3 L1874.8,1696.2 L1877.7,1695.5 L1880.5,1695.8 L1883.4,1698.3 L1886.3,1699.1 L1889.1,1702.1 L1892.0,1698.2 L1894.9,1700.7 L1897.8,1702.1 L1900.6,1700.0 L1903.5,1706.1 L1906.4,1707.9 L1909.3,1704.7 L1912.1,1707.3 L1915.0,1707.0 L1917.9,1708.8 L1920.8,1708.0 L1923.6,1711.6 L1926.5,1708.9 L1929.4,1714.3 L1932.3,1713.4 L1935.1,1718.0 L1937.9,1711.7 L1940.8,1715.5 L1943.6,1714.4 L1946.4,1717.6 L1949.2,1719.7 L1952.0,1718.3 L1954.8,1718.4 L1957.6,1718.9 L1960.4,1723.6 L1963.2,1726.6 L1966.0,1727.5 L1968.8,1726.4 L1971.6,1725.6 L1974.4,1727.8 L1977.2,1726.7 L1980.0,1727.6 L1982.9,1733.7 L1985.7,1732.1 L1988.5,1734.2 L1991.4,1734.0 L1994.3,1738.0 L1997.1,1739.0 L2000.0,1735.5 L2002.9,1737.0 L2005.8,1737.2 L2008.7,1741.9 L2011.6,1742.6 L2014.5,1740.3 L2017.4,1746.3 L2020.3,1742.5 L2023.2,1740.8 L2026.1,1739.9 L2029.0,1744.5 L2031.9,1746.2 L2034.8,1745.1 L2037.7,1747.8 L2040.6,1750.3 L2043.6,1748.4 L2046.5,1750.9 L2049.4,1753.2 L2052.4,1751.3 L2055.3,1749.6 L2058.3,1752.2 L2061.2,1753.0 L2064.2,1756.9 L2067.2,1752.0 L2070.1,1750.2 L2073.1,1754.6 L2076.0,1755.2 L2079.0,1754.2 L2081.9,1756.8 L2084.9,1756.8 L2087.8,1759.3 L2090.8,1755.4 L2093.7,1756.2 L2096.7,1758.2 L2099.7,1757.7 L2102.6,1762.1 L2105.6,1761.1 L2108.5,1760.3 L2111.5,1764.2 L2114.5,1762.3 L2117.4,1763.8 L2120.4,1763.8 L2123.4,1762.0 L2126.4,1762.3 L2129.4,1763.0 L2132.3,1760.9 L2135.3,1762.9 L2138.3,1766.1 L2141.3,1765.2 L2144.3,1762.6 L2147.2,1770.6 L2150.2,1763.1 L2153.2,1767.3 L2156.2,1767.9 L2159.2,1769.6 L2162.1,1764.9 L2165.1,1767.4 L2168.1,1767.2 L2171.1,1770.7 L2174.1,1769.3 L2177.1,1769.6 L2180.0,1770.2 L2183.0,1773.8 L2186.0,1770.9 L2189.0,1771.5 L2192.0,1767.2 L2195.0,1771.3 L2198.0,1766.7 L2201.0,1772.2 L2204.0,1770.4 L2207.0,1768.0 L2210.0,1767.4 L2213.0,1770.2 L2216.0,1770.8 L2219.0,1769.3 L2222.0,1770.0 L2225.0,1770.1 L2228.0,1769.7 L2231.0,1770.7 L2234.0,1772.0 L2237.0,1774.7 L2240.0,1773.2 L2243.0,1770.2 L2246.0,1776.0 L2249.0,1775.0 L2252.0,1771.4 L2255.0,1774.8 L2258.0,1771.0 L2261.0,1770.5 L2264.0,1770.7 L2267.0,1777.0 L2270.0,1773.2 L2273.0,1773.8 L2276.0,1773.3 L2279.0,1772.2 L2282.0,1774.7 L2285.0,1775.3 L2288.0,1778.9 L2291.0,1771.5 L2294.0,1778.0 L2297.0,1775.8 L2300.0,1769.5 L2303.0,1776.9 L2306.0,1778.8 L2309.0,1777.5 L2312.0,1775.3 L2315.0,1775.2 L2318.0,1769.5 L2321.0,1775.9 L2324.0,1775.7 L2327.0,1772.7 L2330.0,1775.9 L2332.9,1773.7 L2335.7,1781.9 L2338.2,1772.3 L2340.1,1773.3" fill="none" stroke="#1b2a90" stroke-width="7" stroke-linejoin="round" stroke-linecap="round"/>
<line x1="1184.8" y1="1309" x2="1184.8" y2="1575" stroke="#000" stroke-width="7"/>
<polygon points="1184.5,1285.5 1209,1309.5 1184.5,1332 1160,1309.5" fill="#000"/>
<polygon points="1159.5,1559.5 1209.5,1559.5 1184.5,1606" fill="#000"/>
<line x1="1412" y1="1610" x2="1412" y2="1525" stroke="#0a0ae8" stroke-width="7"/>
<polygon points="1412,1587 1436.5,1610 1412,1634 1387.5,1610" fill="#0a0ae8"/>
<polygon points="1388,1539.5 1437,1539.5 1412.5,1492" fill="#0a0ae8"/>
<text x="1219.45" y="690.80" font-size="50.6" textLength="728.45" lengthAdjust="spacingAndGlyphs" fill="#111111" stroke="#111111" stroke-width="0.8">black: ortho-dimer-DHA in DCM</text>
<text x="1219.45" y="747.30" font-size="50.6" textLength="885.20" lengthAdjust="spacingAndGlyphs" fill="#c42a36" stroke="#c42a36" stroke-width="0.8">red: after irradiation at 365 nm for 90 s</text>
<text x="1219.04" y="803.80" font-size="50.6" textLength="925.63" lengthAdjust="spacingAndGlyphs" fill="#36a040" stroke="#36a040" stroke-width="0.8">green (solid): after addition of Cu(I) - t=0</text>
<text x="1219.04" y="860.30" font-size="50.6" textLength="1009.85" lengthAdjust="spacingAndGlyphs" fill="#3da046" stroke="#3da046" stroke-width="0.8">green (dotted): after addition of Cu(I) - t=1 h</text>
<text x="1219.45" y="916.80" font-size="50.6" textLength="690.87" lengthAdjust="spacingAndGlyphs" fill="#24398a" stroke="#24398a" stroke-width="0.8">blue: irradiation after 1st cycle</text>
</g>
</svg></body></html>
